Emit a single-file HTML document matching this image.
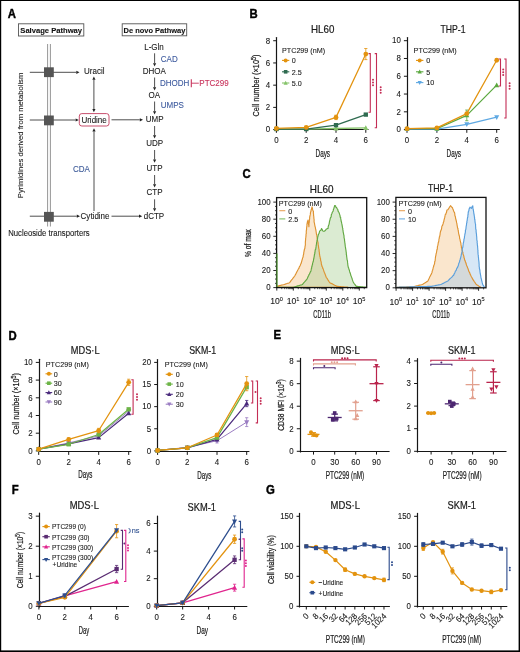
<!DOCTYPE html><html><head><meta charset="utf-8"><style>html,body{margin:0;padding:0;background:#fff;}svg{display:block;filter:blur(0.3px);}text{font-family:"Liberation Sans",sans-serif;}</style></head><body>
<svg width="520" height="652" viewBox="0 0 520 652">
<rect x="0.00" y="0.00" width="520.00" height="652.00" fill="#fff" stroke="none" stroke-width="1" />
<text x="7.80" y="18.00" font-size="12.2" fill="#000" stroke="#000" stroke-width="0.1" font-weight="bold" textLength="8.19" lengthAdjust="spacingAndGlyphs" style="stroke-width:0.4">A</text>
<text x="249.40" y="18.20" font-size="12.2" fill="#000" stroke="#000" stroke-width="0.1" font-weight="bold" textLength="8.19" lengthAdjust="spacingAndGlyphs" style="stroke-width:0.4">B</text>
<text x="242.50" y="178.20" font-size="12.2" fill="#000" stroke="#000" stroke-width="0.1" font-weight="bold" textLength="8.19" lengthAdjust="spacingAndGlyphs" style="stroke-width:0.4">C</text>
<text x="8.50" y="339.60" font-size="12.2" fill="#000" stroke="#000" stroke-width="0.1" font-weight="bold" textLength="8.19" lengthAdjust="spacingAndGlyphs" style="stroke-width:0.4">D</text>
<text x="273.50" y="339.00" font-size="12.2" fill="#000" stroke="#000" stroke-width="0.1" font-weight="bold" textLength="7.57" lengthAdjust="spacingAndGlyphs" style="stroke-width:0.4">E</text>
<text x="11.70" y="493.70" font-size="12.2" fill="#000" stroke="#000" stroke-width="0.1" font-weight="bold" textLength="6.93" lengthAdjust="spacingAndGlyphs" style="stroke-width:0.4">F</text>
<text x="266.00" y="493.70" font-size="12.2" fill="#000" stroke="#000" stroke-width="0.1" font-weight="bold" textLength="8.83" lengthAdjust="spacingAndGlyphs" style="stroke-width:0.4">G</text>
<rect x="18.50" y="23.80" width="65.30" height="12.20" fill="#fff" stroke="#555" stroke-width="0.9" />
<text x="51.20" y="33.20" font-size="7.9" fill="#111" stroke="#111" stroke-width="0.1" text-anchor="middle" font-weight="bold" textLength="61.8" lengthAdjust="spacingAndGlyphs" >Salvage Pathway</text>
<rect x="122.20" y="23.80" width="64.50" height="12.00" fill="#fff" stroke="#555" stroke-width="0.9" />
<text x="154.50" y="33.20" font-size="7.9" fill="#111" stroke="#111" stroke-width="0.1" text-anchor="middle" font-weight="bold" textLength="61.8" lengthAdjust="spacingAndGlyphs" >De novo Pathway</text>
<line x1="47.60" y1="44.00" x2="47.60" y2="226.50" stroke="#8a8a8a" stroke-width="0.9" />
<line x1="50.40" y1="44.00" x2="50.40" y2="226.50" stroke="#8a8a8a" stroke-width="0.9" />
<line x1="29.80" y1="72.30" x2="76.30" y2="72.30" stroke="#222" stroke-width="0.8" />
<path d="M79.50,72.30 L76.30,73.90 L76.30,70.70 Z" stroke="none" stroke-width="1" fill="#222" />
<line x1="29.80" y1="120.00" x2="75.60" y2="120.00" stroke="#222" stroke-width="0.8" />
<path d="M78.80,120.00 L75.60,121.60 L75.60,118.40 Z" stroke="none" stroke-width="1" fill="#222" />
<line x1="29.80" y1="216.20" x2="76.80" y2="216.20" stroke="#222" stroke-width="0.8" />
<path d="M80.00,216.20 L76.80,217.80 L76.80,214.60 Z" stroke="none" stroke-width="1" fill="#222" />
<rect x="44.00" y="67.30" width="9.80" height="9.80" fill="#555" stroke="none" stroke-width="1" />
<rect x="44.00" y="115.50" width="9.80" height="9.80" fill="#555" stroke="none" stroke-width="1" />
<rect x="44.00" y="211.90" width="9.80" height="9.80" fill="#555" stroke="none" stroke-width="1" />
<line x1="93.90" y1="94.00" x2="93.90" y2="79.80" stroke="#222" stroke-width="0.8" />
<path d="M93.90,76.60 L95.50,79.80 L92.30,79.80 Z" stroke="none" stroke-width="1" fill="#222" />
<line x1="93.90" y1="94.00" x2="93.90" y2="109.00" stroke="#222" stroke-width="0.8" />
<path d="M93.90,112.20 L92.30,109.00 L95.50,109.00 Z" stroke="none" stroke-width="1" fill="#222" />
<line x1="94.00" y1="211.00" x2="94.00" y2="131.50" stroke="#222" stroke-width="0.8" />
<path d="M94.00,128.30 L95.60,131.50 L92.40,131.50 Z" stroke="none" stroke-width="1" fill="#222" />
<rect x="79.30" y="113.60" width="29.70" height="12.40" fill="#fff" stroke="#c23b5c" stroke-width="0.9" rx="2.5" ry="2.5"/>
<text x="94.10" y="122.90" font-size="8.8" fill="#1a1a1a" stroke="#1a1a1a" stroke-width="0.1" text-anchor="middle" textLength="25.37" lengthAdjust="spacingAndGlyphs" >Uridine</text>
<text x="84.00" y="74.20" font-size="8.8" fill="#1a1a1a" stroke="#1a1a1a" stroke-width="0.1" textLength="20.47" lengthAdjust="spacingAndGlyphs" >Uracil</text>
<text x="80.60" y="219.20" font-size="8.8" fill="#1a1a1a" stroke="#1a1a1a" stroke-width="0.1" textLength="28.93" lengthAdjust="spacingAndGlyphs" >Cytidine</text>
<text x="73.00" y="172.00" font-size="8.8" fill="#3b5998" stroke="#3b5998" stroke-width="0.1" textLength="16.91" lengthAdjust="spacingAndGlyphs" >CDA</text>
<line x1="111.50" y1="119.80" x2="139.80" y2="119.80" stroke="#222" stroke-width="0.8" />
<path d="M143.00,119.80 L139.80,121.40 L139.80,118.20 Z" stroke="none" stroke-width="1" fill="#222" />
<line x1="111.50" y1="216.20" x2="139.00" y2="216.20" stroke="#222" stroke-width="0.8" />
<path d="M142.20,216.20 L139.00,217.80 L139.00,214.60 Z" stroke="none" stroke-width="1" fill="#222" />
<text x="154.00" y="49.90" font-size="8.8" fill="#1a1a1a" stroke="#1a1a1a" stroke-width="0.1" text-anchor="middle" textLength="19.58" lengthAdjust="spacingAndGlyphs" >L-Gln</text>
<text x="154.30" y="74.00" font-size="8.8" fill="#1a1a1a" stroke="#1a1a1a" stroke-width="0.1" text-anchor="middle" textLength="23.14" lengthAdjust="spacingAndGlyphs" >DHOA</text>
<text x="154.40" y="98.00" font-size="8.8" fill="#1a1a1a" stroke="#1a1a1a" stroke-width="0.1" text-anchor="middle" textLength="11.57" lengthAdjust="spacingAndGlyphs" >OA</text>
<text x="154.60" y="122.10" font-size="8.8" fill="#1a1a1a" stroke="#1a1a1a" stroke-width="0.1" text-anchor="middle" textLength="17.8" lengthAdjust="spacingAndGlyphs" >UMP</text>
<text x="154.60" y="146.30" font-size="8.8" fill="#1a1a1a" stroke="#1a1a1a" stroke-width="0.1" text-anchor="middle" textLength="16.91" lengthAdjust="spacingAndGlyphs" >UDP</text>
<text x="154.60" y="171.20" font-size="8.8" fill="#1a1a1a" stroke="#1a1a1a" stroke-width="0.1" text-anchor="middle" textLength="16.02" lengthAdjust="spacingAndGlyphs" >UTP</text>
<text x="154.60" y="195.30" font-size="8.8" fill="#1a1a1a" stroke="#1a1a1a" stroke-width="0.1" text-anchor="middle" textLength="16.02" lengthAdjust="spacingAndGlyphs" >CTP</text>
<text x="154.00" y="218.50" font-size="8.8" fill="#1a1a1a" stroke="#1a1a1a" stroke-width="0.1" text-anchor="middle" textLength="20.47" lengthAdjust="spacingAndGlyphs" >dCTP</text>
<line x1="154.60" y1="53.30" x2="154.60" y2="63.20" stroke="#222" stroke-width="0.8" />
<path d="M154.60,66.40 L153.00,63.20 L156.20,63.20 Z" stroke="none" stroke-width="1" fill="#222" />
<line x1="154.60" y1="77.50" x2="154.60" y2="87.30" stroke="#222" stroke-width="0.8" />
<path d="M154.60,90.50 L153.00,87.30 L156.20,87.30 Z" stroke="none" stroke-width="1" fill="#222" />
<line x1="154.60" y1="101.50" x2="154.60" y2="111.30" stroke="#222" stroke-width="0.8" />
<path d="M154.60,114.50 L153.00,111.30 L156.20,111.30 Z" stroke="none" stroke-width="1" fill="#222" />
<line x1="154.60" y1="126.00" x2="154.60" y2="135.30" stroke="#222" stroke-width="0.8" />
<path d="M154.60,138.50 L153.00,135.30 L156.20,135.30 Z" stroke="none" stroke-width="1" fill="#222" />
<line x1="154.60" y1="150.00" x2="154.60" y2="159.60" stroke="#222" stroke-width="0.8" />
<path d="M154.60,162.80 L153.00,159.60 L156.20,159.60 Z" stroke="none" stroke-width="1" fill="#222" />
<line x1="154.60" y1="175.00" x2="154.60" y2="184.20" stroke="#222" stroke-width="0.8" />
<path d="M154.60,187.40 L153.00,184.20 L156.20,184.20 Z" stroke="none" stroke-width="1" fill="#222" />
<line x1="154.60" y1="199.30" x2="154.60" y2="208.20" stroke="#222" stroke-width="0.8" />
<path d="M154.60,211.40 L153.00,208.20 L156.20,208.20 Z" stroke="none" stroke-width="1" fill="#222" />
<text x="160.80" y="62.10" font-size="8.8" fill="#3d5a9e" stroke="#3d5a9e" stroke-width="0.1" textLength="16.91" lengthAdjust="spacingAndGlyphs" >CAD</text>
<text x="160.00" y="85.60" font-size="8.8" fill="#3d5a9e" stroke="#3d5a9e" stroke-width="0.1" textLength="29.36" lengthAdjust="spacingAndGlyphs" >DHODH</text>
<text x="160.80" y="107.70" font-size="8.8" fill="#3d5a9e" stroke="#3d5a9e" stroke-width="0.1" textLength="23.14" lengthAdjust="spacingAndGlyphs" >UMPS</text>
<line x1="191.30" y1="79.30" x2="191.30" y2="87.20" stroke="#c8315a" stroke-width="1.1" />
<line x1="191.30" y1="83.20" x2="198.80" y2="83.20" stroke="#c8315a" stroke-width="0.9" />
<text x="199.30" y="85.60" font-size="8.8" fill="#c8315a" stroke="#c8315a" stroke-width="0.1" textLength="29.38" lengthAdjust="spacingAndGlyphs" >PTC299</text>
<text x="23.00" y="198.20" font-size="8.0" fill="#1a1a1a" stroke="#1a1a1a" stroke-width="0.1" textLength="125.5" lengthAdjust="spacingAndGlyphs" transform="rotate(-90 23.00 198.20)" >Pyrimidines derived from metabolism</text>
<text x="8.20" y="236.10" font-size="8.3" fill="#1a1a1a" stroke="#1a1a1a" stroke-width="0.1" textLength="81.5" lengthAdjust="spacingAndGlyphs" >Nucleoside transporters</text>
<text x="322.65" y="32.50" font-size="10.2" fill="#1a1a1a" stroke="#1a1a1a" stroke-width="0.1" text-anchor="middle" textLength="23.3" lengthAdjust="spacingAndGlyphs" style="stroke-width:0.2">HL60</text>
<line x1="276.50" y1="37.50" x2="276.50" y2="130.20" stroke="#161616" stroke-width="1.2" stroke-linecap="round"/>
<line x1="273.20" y1="129.60" x2="276.50" y2="129.60" stroke="#161616" stroke-width="1.0" />
<text x="270.10" y="132.38" font-size="8.6" fill="#1a1a1a" stroke="#1a1a1a" stroke-width="0.1" text-anchor="end" textLength="4.4" lengthAdjust="spacingAndGlyphs" >0</text>
<line x1="273.20" y1="107.38" x2="276.50" y2="107.38" stroke="#161616" stroke-width="1.0" />
<text x="270.10" y="110.16" font-size="8.6" fill="#1a1a1a" stroke="#1a1a1a" stroke-width="0.1" text-anchor="end" textLength="4.4" lengthAdjust="spacingAndGlyphs" >2</text>
<line x1="273.20" y1="85.16" x2="276.50" y2="85.16" stroke="#161616" stroke-width="1.0" />
<text x="270.10" y="87.94" font-size="8.6" fill="#1a1a1a" stroke="#1a1a1a" stroke-width="0.1" text-anchor="end" textLength="4.4" lengthAdjust="spacingAndGlyphs" >4</text>
<line x1="273.20" y1="62.94" x2="276.50" y2="62.94" stroke="#161616" stroke-width="1.0" />
<text x="270.10" y="65.72" font-size="8.6" fill="#1a1a1a" stroke="#1a1a1a" stroke-width="0.1" text-anchor="end" textLength="4.4" lengthAdjust="spacingAndGlyphs" >6</text>
<line x1="273.20" y1="40.72" x2="276.50" y2="40.72" stroke="#161616" stroke-width="1.0" />
<text x="270.10" y="43.50" font-size="8.6" fill="#1a1a1a" stroke="#1a1a1a" stroke-width="0.1" text-anchor="end" textLength="4.4" lengthAdjust="spacingAndGlyphs" >8</text>
<line x1="275.90" y1="129.50" x2="368.50" y2="129.50" stroke="#161616" stroke-width="1.2" />
<line x1="276.40" y1="129.60" x2="276.40" y2="132.80" stroke="#161616" stroke-width="1.0" />
<text x="276.40" y="143.28" font-size="8.6" fill="#1a1a1a" stroke="#1a1a1a" stroke-width="0.1" text-anchor="middle" textLength="4.4" lengthAdjust="spacingAndGlyphs" >0</text>
<line x1="306.20" y1="129.60" x2="306.20" y2="132.80" stroke="#161616" stroke-width="1.0" />
<text x="306.20" y="143.28" font-size="8.6" fill="#1a1a1a" stroke="#1a1a1a" stroke-width="0.1" text-anchor="middle" textLength="4.4" lengthAdjust="spacingAndGlyphs" >2</text>
<line x1="336.00" y1="129.60" x2="336.00" y2="132.80" stroke="#161616" stroke-width="1.0" />
<text x="336.00" y="143.28" font-size="8.6" fill="#1a1a1a" stroke="#1a1a1a" stroke-width="0.1" text-anchor="middle" textLength="4.4" lengthAdjust="spacingAndGlyphs" >4</text>
<line x1="365.80" y1="129.60" x2="365.80" y2="132.80" stroke="#161616" stroke-width="1.0" />
<text x="365.80" y="143.28" font-size="8.6" fill="#1a1a1a" stroke="#1a1a1a" stroke-width="0.1" text-anchor="middle" textLength="4.4" lengthAdjust="spacingAndGlyphs" >6</text>
<text x="258.70" y="85.50" font-size="8.61" fill="#1a1a1a" stroke="#1a1a1a" stroke-width="0.1" text-anchor="middle" textLength="62" lengthAdjust="spacingAndGlyphs" transform="rotate(-90 258.70 85.50)" style="stroke-width:0.22">Cell number (×10<tspan dy="-3" font-size="6.3">5</tspan><tspan dy="3">)</tspan></text>
<text x="322.80" y="156.50" font-size="11.008" fill="#1a1a1a" stroke="#1a1a1a" stroke-width="0.1" text-anchor="middle" textLength="14.5" lengthAdjust="spacingAndGlyphs" style="stroke-width:0.22">Days</text>
<text x="282.00" y="53.30" font-size="7.9" fill="#1a1a1a" stroke="#1a1a1a" stroke-width="0.1" textLength="43.14" lengthAdjust="spacingAndGlyphs" >PTC299 (nM)</text>
<path d="M276.40,129.04 L306.20,129.04 L336.00,128.49 L365.80,127.93" stroke="#86c46a" stroke-width="1.3" fill="none" stroke-linejoin="round"/>
<path d="M273.88,131.02 L278.92,131.02 L276.40,126.27 Z" stroke="none" stroke-width="1" fill="#86c46a" />
<path d="M303.68,131.02 L308.72,131.02 L306.20,126.27 Z" stroke="none" stroke-width="1" fill="#86c46a" />
<path d="M333.48,130.47 L338.52,130.47 L336.00,125.72 Z" stroke="none" stroke-width="1" fill="#86c46a" />
<path d="M363.28,129.91 L368.32,129.91 L365.80,125.16 Z" stroke="none" stroke-width="1" fill="#86c46a" />
<path d="M276.40,129.04 L306.20,129.04 L336.00,125.16 L365.80,114.60" stroke="#2f6b50" stroke-width="1.25" fill="none" stroke-linejoin="round"/>
<rect x="274.24" y="126.88" width="4.32" height="4.32" fill="#2f6b50" stroke="none" stroke-width="1" />
<rect x="304.04" y="126.88" width="4.32" height="4.32" fill="#2f6b50" stroke="none" stroke-width="1" />
<rect x="333.84" y="123.00" width="4.32" height="4.32" fill="#2f6b50" stroke="none" stroke-width="1" />
<rect x="363.64" y="112.44" width="4.32" height="4.32" fill="#2f6b50" stroke="none" stroke-width="1" />
<path d="M276.40,128.49 L306.20,127.38 L336.00,117.38 L365.80,54.05" stroke="#e3930f" stroke-width="1.25" fill="none" stroke-linejoin="round"/>
<line x1="336.00" y1="115.16" x2="336.00" y2="119.60" stroke="#e3930f" stroke-width="0.8" />
<line x1="334.40" y1="115.16" x2="337.60" y2="115.16" stroke="#e3930f" stroke-width="0.8" />
<line x1="334.40" y1="119.60" x2="337.60" y2="119.60" stroke="#e3930f" stroke-width="0.8" />
<line x1="365.80" y1="48.50" x2="365.80" y2="59.61" stroke="#e3930f" stroke-width="0.8" />
<line x1="364.20" y1="48.50" x2="367.40" y2="48.50" stroke="#e3930f" stroke-width="0.8" />
<line x1="364.20" y1="59.61" x2="367.40" y2="59.61" stroke="#e3930f" stroke-width="0.8" />
<circle cx="276.40" cy="128.49" r="2.40" fill="#e3930f"/>
<circle cx="306.20" cy="127.38" r="2.40" fill="#e3930f"/>
<circle cx="336.00" cy="117.38" r="2.40" fill="#e3930f"/>
<circle cx="365.80" cy="54.05" r="2.40" fill="#e3930f"/>
<line x1="282.00" y1="60.40" x2="289.30" y2="60.40" stroke="#e3930f" stroke-width="1.1" />
<circle cx="285.65" cy="60.40" r="2.00" fill="#e3930f"/>
<text x="291.70" y="63.24" font-size="7.9" fill="#1a1a1a" stroke="#1a1a1a" stroke-width="0.1" textLength="4.0" lengthAdjust="spacingAndGlyphs" >0</text>
<line x1="282.00" y1="71.80" x2="289.30" y2="71.80" stroke="#2f6b50" stroke-width="1.1" />
<rect x="283.85" y="70.00" width="3.60" height="3.60" fill="#2f6b50" stroke="none" stroke-width="1" />
<text x="291.70" y="74.64" font-size="7.9" fill="#1a1a1a" stroke="#1a1a1a" stroke-width="0.1" textLength="9.99" lengthAdjust="spacingAndGlyphs" >2.5</text>
<line x1="282.00" y1="83.00" x2="289.30" y2="83.00" stroke="#86c46a" stroke-width="1.1" />
<path d="M283.55,84.65 L287.75,84.65 L285.65,80.69 Z" stroke="none" stroke-width="1" fill="#86c46a" />
<text x="291.70" y="85.84" font-size="7.9" fill="#1a1a1a" stroke="#1a1a1a" stroke-width="0.1" textLength="9.99" lengthAdjust="spacingAndGlyphs" >5.0</text>
<path d="M368.50,53.60 L370.30,53.60 L370.30,112.20 L368.50,112.20" stroke="#c42d55" stroke-width="1.1" fill="none" />
<circle cx="373.00" cy="79.80" r="1.00" fill="#c42d55"/>
<circle cx="373.00" cy="82.50" r="1.00" fill="#c42d55"/>
<circle cx="373.00" cy="85.20" r="1.00" fill="#c42d55"/>
<path d="M374.70,53.60 L376.50,53.60 L376.50,127.80 L374.70,127.80" stroke="#c42d55" stroke-width="1.1" fill="none" />
<circle cx="380.70" cy="87.30" r="1.00" fill="#c42d55"/>
<circle cx="380.70" cy="90.00" r="1.00" fill="#c42d55"/>
<circle cx="380.70" cy="92.70" r="1.00" fill="#c42d55"/>
<text x="453.00" y="32.60" font-size="10.2" fill="#1a1a1a" stroke="#1a1a1a" stroke-width="0.1" text-anchor="middle" textLength="25" lengthAdjust="spacingAndGlyphs" style="stroke-width:0.2">THP-1</text>
<line x1="407.50" y1="37.50" x2="407.50" y2="130.20" stroke="#161616" stroke-width="1.2" stroke-linecap="round"/>
<line x1="403.90" y1="129.60" x2="407.50" y2="129.60" stroke="#161616" stroke-width="1.0" />
<text x="400.80" y="132.38" font-size="8.6" fill="#1a1a1a" stroke="#1a1a1a" stroke-width="0.1" text-anchor="end" textLength="4.4" lengthAdjust="spacingAndGlyphs" >0</text>
<line x1="403.90" y1="111.82" x2="407.50" y2="111.82" stroke="#161616" stroke-width="1.0" />
<text x="400.80" y="114.60" font-size="8.6" fill="#1a1a1a" stroke="#1a1a1a" stroke-width="0.1" text-anchor="end" textLength="4.4" lengthAdjust="spacingAndGlyphs" >2</text>
<line x1="403.90" y1="94.04" x2="407.50" y2="94.04" stroke="#161616" stroke-width="1.0" />
<text x="400.80" y="96.82" font-size="8.6" fill="#1a1a1a" stroke="#1a1a1a" stroke-width="0.1" text-anchor="end" textLength="4.4" lengthAdjust="spacingAndGlyphs" >4</text>
<line x1="403.90" y1="76.26" x2="407.50" y2="76.26" stroke="#161616" stroke-width="1.0" />
<text x="400.80" y="79.04" font-size="8.6" fill="#1a1a1a" stroke="#1a1a1a" stroke-width="0.1" text-anchor="end" textLength="4.4" lengthAdjust="spacingAndGlyphs" >6</text>
<line x1="403.90" y1="58.48" x2="407.50" y2="58.48" stroke="#161616" stroke-width="1.0" />
<text x="400.80" y="61.26" font-size="8.6" fill="#1a1a1a" stroke="#1a1a1a" stroke-width="0.1" text-anchor="end" textLength="4.4" lengthAdjust="spacingAndGlyphs" >8</text>
<line x1="403.90" y1="40.70" x2="407.50" y2="40.70" stroke="#161616" stroke-width="1.0" />
<text x="400.80" y="43.48" font-size="8.6" fill="#1a1a1a" stroke="#1a1a1a" stroke-width="0.1" text-anchor="end" textLength="8.8" lengthAdjust="spacingAndGlyphs" >10</text>
<line x1="406.90" y1="129.50" x2="499.80" y2="129.50" stroke="#161616" stroke-width="1.2" />
<line x1="407.00" y1="129.60" x2="407.00" y2="132.80" stroke="#161616" stroke-width="1.0" />
<text x="407.00" y="143.28" font-size="8.6" fill="#1a1a1a" stroke="#1a1a1a" stroke-width="0.1" text-anchor="middle" textLength="4.4" lengthAdjust="spacingAndGlyphs" >0</text>
<line x1="436.90" y1="129.60" x2="436.90" y2="132.80" stroke="#161616" stroke-width="1.0" />
<text x="436.90" y="143.28" font-size="8.6" fill="#1a1a1a" stroke="#1a1a1a" stroke-width="0.1" text-anchor="middle" textLength="4.4" lengthAdjust="spacingAndGlyphs" >2</text>
<line x1="466.80" y1="129.60" x2="466.80" y2="132.80" stroke="#161616" stroke-width="1.0" />
<text x="466.80" y="143.28" font-size="8.6" fill="#1a1a1a" stroke="#1a1a1a" stroke-width="0.1" text-anchor="middle" textLength="4.4" lengthAdjust="spacingAndGlyphs" >4</text>
<line x1="496.70" y1="129.60" x2="496.70" y2="132.80" stroke="#161616" stroke-width="1.0" />
<text x="496.70" y="143.28" font-size="8.6" fill="#1a1a1a" stroke="#1a1a1a" stroke-width="0.1" text-anchor="middle" textLength="4.4" lengthAdjust="spacingAndGlyphs" >6</text>
<text x="453.80" y="156.50" font-size="11.008" fill="#1a1a1a" stroke="#1a1a1a" stroke-width="0.1" text-anchor="middle" textLength="14.5" lengthAdjust="spacingAndGlyphs" style="stroke-width:0.22">Days</text>
<text x="413.60" y="53.30" font-size="7.9" fill="#1a1a1a" stroke="#1a1a1a" stroke-width="0.1" textLength="43.14" lengthAdjust="spacingAndGlyphs" >PTC299 (nM)</text>
<path d="M407.00,129.16 L436.90,129.16 L466.80,124.27 L496.70,117.15" stroke="#5fa9e3" stroke-width="1.25" fill="none" stroke-linejoin="round"/>
<path d="M404.48,127.18 L409.52,127.18 L407.00,131.93 Z" stroke="none" stroke-width="1" fill="#5fa9e3" />
<path d="M434.38,127.18 L439.42,127.18 L436.90,131.93 Z" stroke="none" stroke-width="1" fill="#5fa9e3" />
<path d="M464.28,122.29 L469.32,122.29 L466.80,127.04 Z" stroke="none" stroke-width="1" fill="#5fa9e3" />
<path d="M494.18,115.17 L499.22,115.17 L496.70,119.93 Z" stroke="none" stroke-width="1" fill="#5fa9e3" />
<path d="M407.00,128.71 L436.90,128.71 L466.80,115.38 L496.70,85.15" stroke="#5aa83e" stroke-width="1.25" fill="none" stroke-linejoin="round"/>
<line x1="466.80" y1="110.04" x2="466.80" y2="120.71" stroke="#5aa83e" stroke-width="0.8" />
<line x1="465.20" y1="110.04" x2="468.40" y2="110.04" stroke="#5aa83e" stroke-width="0.8" />
<line x1="465.20" y1="120.71" x2="468.40" y2="120.71" stroke="#5aa83e" stroke-width="0.8" />
<path d="M404.48,130.69 L409.52,130.69 L407.00,125.94 Z" stroke="none" stroke-width="1" fill="#5aa83e" />
<path d="M434.38,130.69 L439.42,130.69 L436.90,125.94 Z" stroke="none" stroke-width="1" fill="#5aa83e" />
<path d="M464.28,117.36 L469.32,117.36 L466.80,112.60 Z" stroke="none" stroke-width="1" fill="#5aa83e" />
<path d="M494.18,87.13 L499.22,87.13 L496.70,82.38 Z" stroke="none" stroke-width="1" fill="#5aa83e" />
<path d="M407.00,128.71 L436.90,127.82 L466.80,113.60 L496.70,60.26" stroke="#e3930f" stroke-width="1.25" fill="none" stroke-linejoin="round"/>
<circle cx="407.00" cy="128.71" r="2.40" fill="#e3930f"/>
<circle cx="436.90" cy="127.82" r="2.40" fill="#e3930f"/>
<circle cx="466.80" cy="113.60" r="2.40" fill="#e3930f"/>
<circle cx="496.70" cy="60.26" r="2.40" fill="#e3930f"/>
<line x1="416.00" y1="60.40" x2="423.40" y2="60.40" stroke="#e3930f" stroke-width="1.1" />
<circle cx="419.70" cy="60.40" r="2.00" fill="#e3930f"/>
<text x="426.30" y="63.24" font-size="7.9" fill="#1a1a1a" stroke="#1a1a1a" stroke-width="0.1" textLength="4.0" lengthAdjust="spacingAndGlyphs" >0</text>
<line x1="416.00" y1="71.80" x2="423.40" y2="71.80" stroke="#5aa83e" stroke-width="1.1" />
<path d="M417.60,73.45 L421.80,73.45 L419.70,69.49 Z" stroke="none" stroke-width="1" fill="#5aa83e" />
<text x="426.30" y="74.64" font-size="7.9" fill="#1a1a1a" stroke="#1a1a1a" stroke-width="0.1" textLength="4.0" lengthAdjust="spacingAndGlyphs" >5</text>
<line x1="416.00" y1="82.60" x2="423.40" y2="82.60" stroke="#5fa9e3" stroke-width="1.1" />
<path d="M417.60,80.95 L421.80,80.95 L419.70,84.91 Z" stroke="none" stroke-width="1" fill="#5fa9e3" />
<text x="426.30" y="85.44" font-size="7.9" fill="#1a1a1a" stroke="#1a1a1a" stroke-width="0.1" textLength="8.0" lengthAdjust="spacingAndGlyphs" >10</text>
<path d="M498.70,59.00 L500.50,59.00 L500.50,86.00 L498.70,86.00" stroke="#c42d55" stroke-width="1.1" fill="none" />
<circle cx="503.20" cy="69.50" r="1.00" fill="#c42d55"/>
<circle cx="503.20" cy="72.20" r="1.00" fill="#c42d55"/>
<circle cx="503.20" cy="74.90" r="1.00" fill="#c42d55"/>
<path d="M504.20,59.00 L506.00,59.00 L506.00,118.00 L504.20,118.00" stroke="#c42d55" stroke-width="1.1" fill="none" />
<circle cx="509.60" cy="83.30" r="1.00" fill="#c42d55"/>
<circle cx="509.60" cy="86.00" r="1.00" fill="#c42d55"/>
<circle cx="509.60" cy="88.70" r="1.00" fill="#c42d55"/>
<path d="M276.83,286.34 L277.74,286.11 L278.65,285.88 L279.56,285.66 L280.47,285.43 L281.39,285.17 L282.31,285.01 L283.21,284.72 L284.14,284.57 L285.05,284.20 L285.98,283.84 L286.89,283.57 L287.78,283.23 L288.69,283.06 L289.60,282.71 L290.17,281.93 L290.71,281.10 L291.23,280.40 L291.82,279.74 L292.34,279.07 L292.90,278.22 L293.48,277.68 L293.97,276.89 L294.55,276.33 L295.12,275.25 L295.57,274.32 L295.90,273.94 L296.26,272.94 L296.65,272.27 L297.17,271.39 L297.60,270.35 L297.97,269.79 L298.36,268.85 L298.82,268.53 L299.20,267.34 L299.57,266.47 L300.15,265.88 L300.65,264.19 L301.01,263.70 L301.39,262.55 L301.65,261.26 L301.85,261.06 L302.09,259.58 L302.38,259.35 L302.54,257.97 L302.87,257.54 L303.16,256.60 L303.27,255.20 L303.47,254.80 L303.78,253.08 L303.79,252.25 L303.99,251.62 L304.25,250.46 L304.30,249.72 L304.57,248.97 L304.88,248.19 L304.96,247.20 L305.18,245.66 L305.31,245.55 L305.38,244.65 L305.35,243.30 L305.36,242.65 L305.43,241.11 L305.54,240.30 L305.64,239.27 L305.64,238.46 L305.74,237.78 L305.80,237.43 L306.01,235.72 L306.00,235.02 L306.10,233.86 L306.29,233.91 L306.28,232.43 L306.27,231.10 L306.40,230.37 L306.59,229.34 L306.49,229.29 L306.67,227.50 L306.75,226.45 L306.83,226.58 L306.97,225.36 L306.92,224.08 L307.08,223.62 L307.34,222.71 L307.48,221.19 L307.77,221.11 L307.96,220.00 L308.09,220.84 L308.09,221.51 L308.24,221.89 L308.30,223.07 L308.48,224.44 L308.77,225.09 L308.89,226.59 L308.99,225.00 L308.92,223.93 L309.01,222.99 L309.19,222.84 L309.33,221.47 L309.38,220.91 L309.35,219.84 L309.62,219.06 L309.68,217.81 L309.64,217.24 L309.86,216.34 L310.18,214.98 L310.24,214.67 L310.49,212.91 L310.54,211.97 L310.90,211.78 L310.91,210.89 L311.28,209.79 L311.60,208.57 L312.01,206.89 L312.51,208.59 L312.73,209.91 L313.03,210.85 L313.44,211.12 L313.39,212.13 L313.46,213.36 L313.54,214.09 L313.59,215.55 L313.71,215.96 L313.84,217.37 L313.88,218.30 L313.97,218.79 L314.06,219.13 L314.11,220.23 L314.09,221.82 L314.21,222.37 L314.51,223.38 L314.61,224.25 L314.84,225.46 L314.92,226.12 L315.14,226.73 L315.43,227.89 L315.57,229.08 L315.83,229.65 L315.95,230.63 L316.11,231.75 L316.25,232.49 L316.41,233.85 L316.61,234.69 L316.81,234.93 L316.88,236.59 L317.09,236.62 L317.09,237.87 L317.23,238.56 L317.38,239.95 L317.69,241.11 L317.70,241.82 L317.97,242.11 L318.15,243.93 L318.13,244.82 L318.30,245.23 L318.56,246.52 L318.51,246.99 L318.72,247.80 L318.78,248.69 L319.03,249.28 L319.12,250.66 L319.13,251.45 L319.40,252.56 L319.40,254.00 L319.69,254.89 L319.67,255.03 L319.84,256.51 L320.07,256.71 L320.29,258.48 L320.56,258.68 L320.60,260.32 L320.87,260.99 L320.95,261.20 L321.26,262.51 L321.31,263.99 L321.62,264.75 L321.80,265.73 L322.10,266.65 L322.49,266.99 L322.82,268.51 L323.06,268.63 L323.42,269.66 L323.69,270.52 L324.03,271.49 L324.41,272.49 L324.82,273.41 L325.13,274.26 L325.45,275.09 L325.78,276.02 L326.18,277.24 L326.65,277.98 L327.24,278.61 L327.74,279.53 L328.24,280.46 L328.76,281.13 L329.30,282.03 L329.80,282.76 L330.63,283.12 L331.43,283.48 L332.23,283.86 L333.04,284.35 L333.86,284.69 L334.67,285.16 L335.50,285.54 L336.30,285.93 L337.11,286.35 L338.03,286.42 L338.94,286.50 L339.86,286.57 L340.77,286.65 L341.68,286.73 L342.60,286.80 L343.51,286.88 L344.42,286.96 L345.34,287.03 L346.25,287.11 L347.16,287.18 L348.08,287.26 L347.18,287.26 L346.27,287.26 L345.37,287.26 L344.47,287.26 L343.57,287.26 L342.67,287.26 L341.76,287.26 L340.86,287.26 L339.96,287.26 L339.06,287.26 L338.16,287.26 L337.25,287.26 L336.35,287.26 L335.45,287.26 L334.55,287.26 L333.65,287.26 L332.74,287.26 L331.84,287.26 L330.94,287.26 L330.04,287.26 L329.14,287.26 L328.24,287.26 L327.33,287.26 L326.43,287.26 L325.53,287.26 L324.63,287.26 L323.73,287.26 L322.82,287.26 L321.92,287.26 L321.02,287.26 L320.12,287.26 L319.22,287.26 L318.31,287.26 L317.41,287.26 L316.51,287.26 L315.61,287.26 L314.71,287.26 L313.80,287.26 L312.90,287.26 L312.00,287.26 L311.10,287.26 L310.20,287.26 L309.30,287.26 L308.39,287.26 L307.49,287.26 L306.59,287.26 L305.69,287.26 L304.79,287.26 L303.88,287.26 L302.98,287.26 L302.08,287.26 L301.18,287.26 L300.28,287.26 L299.37,287.26 L298.47,287.26 L297.57,287.26 L296.67,287.26 L295.77,287.26 L294.86,287.26 L293.96,287.26 L293.06,287.26 L292.16,287.26 L291.26,287.26 L290.36,287.26 L289.45,287.26 L288.55,287.26 L287.65,287.26 L286.75,287.26 L285.85,287.26 L284.94,287.26 L284.04,287.26 L283.14,287.26 L282.24,287.26 L281.34,287.26 L280.43,287.26 L279.53,287.26 L278.63,287.26 L277.73,287.26 L276.83,287.26 Z" stroke="none" stroke-width="1" fill="#f3c890" fill-opacity="0.45"/>
<path d="M276.83,287.26 L277.74,287.26 L278.65,287.26 L279.57,287.26 L280.48,287.26 L281.39,287.26 L282.31,287.26 L283.22,287.26 L284.13,287.26 L285.05,287.26 L285.96,287.26 L286.88,287.26 L287.79,287.26 L288.70,287.26 L289.62,287.26 L290.53,287.26 L291.44,287.26 L292.36,287.26 L293.27,287.26 L294.18,286.99 L295.10,286.71 L296.01,286.44 L296.93,286.17 L297.84,285.87 L298.74,285.63 L299.67,285.34 L300.58,285.03 L301.49,284.84 L302.41,284.56 L303.07,283.70 L303.69,282.88 L304.36,282.21 L305.04,281.45 L305.68,280.69 L306.32,279.84 L306.93,279.16 L307.35,278.42 L307.80,277.32 L308.15,276.47 L308.61,275.91 L308.95,274.70 L309.41,274.22 L309.80,273.15 L310.23,272.16 L310.59,271.70 L310.93,270.94 L311.15,269.88 L311.26,268.75 L311.63,268.29 L311.73,266.65 L311.99,266.44 L312.21,265.07 L312.49,264.89 L312.62,263.00 L312.87,262.51 L313.18,261.35 L313.43,261.03 L313.54,259.53 L313.81,258.74 L313.95,257.73 L313.99,257.40 L314.18,256.70 L314.39,254.94 L314.50,254.28 L314.77,253.96 L314.83,252.43 L315.01,252.16 L315.17,250.23 L315.32,249.69 L315.68,249.32 L315.81,248.53 L316.03,246.88 L316.04,246.63 L316.33,244.73 L316.47,244.19 L316.58,243.23 L316.70,241.95 L316.89,241.42 L317.20,240.26 L317.37,239.44 L317.40,239.20 L317.67,237.86 L317.67,236.99 L317.90,236.57 L318.23,235.04 L318.75,233.76 L319.01,233.71 L319.45,231.95 L319.66,231.06 L320.46,230.36 L321.03,230.15 L321.55,228.55 L322.30,229.84 L322.75,230.86 L323.37,231.29 L324.22,231.21 L325.33,230.47 L326.25,229.19 L327.01,228.77 L328.08,228.38 L328.18,226.70 L328.42,226.05 L328.76,224.80 L328.96,224.49 L329.19,223.62 L329.37,222.21 L329.54,221.34 L329.87,220.11 L330.00,219.94 L330.27,218.27 L330.49,217.89 L330.81,217.45 L331.20,216.55 L331.32,214.64 L331.55,214.18 L332.05,213.21 L332.31,212.26 L332.76,211.63 L333.15,210.91 L333.50,209.20 L333.83,208.48 L334.06,207.65 L334.39,206.54 L334.58,205.68 L334.85,205.47 L335.49,205.77 L336.00,207.42 L336.57,207.49 L337.18,208.87 L337.68,209.18 L338.02,210.88 L338.56,211.90 L338.84,212.13 L339.12,212.93 L339.57,214.27 L339.82,214.96 L340.07,215.95 L340.19,217.23 L340.61,217.40 L340.79,218.88 L340.89,219.52 L341.06,220.25 L341.26,221.60 L341.53,222.08 L341.58,223.13 L341.90,223.88 L342.01,224.82 L342.30,226.11 L342.32,226.53 L342.57,227.94 L342.78,228.35 L342.83,229.93 L343.03,230.39 L343.16,232.04 L343.32,232.53 L343.48,233.27 L343.74,234.83 L343.78,234.86 L344.02,235.78 L344.01,237.46 L344.25,238.29 L344.40,239.27 L344.53,239.39 L344.54,240.73 L344.80,242.04 L344.79,242.63 L344.97,243.42 L345.03,244.09 L345.23,245.71 L345.25,246.14 L345.52,247.58 L345.50,247.57 L345.78,249.42 L345.79,249.32 L346.00,250.60 L346.11,251.77 L346.21,252.17 L346.31,253.16 L346.36,254.76 L346.58,254.94 L346.58,256.09 L346.78,256.99 L346.82,257.75 L347.08,259.38 L347.06,259.92 L347.35,260.26 L347.50,261.26 L347.58,262.65 L347.71,263.30 L347.80,264.51 L347.93,265.51 L348.07,266.18 L348.25,267.29 L348.62,267.81 L348.95,269.26 L349.17,269.61 L349.44,270.48 L349.66,271.67 L349.93,272.60 L350.27,273.23 L350.56,274.19 L350.85,275.56 L351.16,276.05 L351.50,277.15 L351.89,277.96 L352.22,279.24 L352.55,280.07 L352.85,281.02 L353.21,281.90 L353.58,282.62 L354.12,283.50 L354.64,284.13 L355.21,284.85 L355.75,285.60 L356.30,286.34 L357.21,286.43 L358.12,286.51 L359.04,286.60 L359.95,286.68 L360.87,286.76 L361.78,286.84 L362.69,286.93 L363.61,287.01 L364.52,287.09 L365.43,287.18 L366.35,287.26 Z" stroke="none" stroke-width="1" fill="#a9cf94" fill-opacity="0.42"/>
<path d="M276.83,286.34 L277.74,286.11 L278.65,285.88 L279.56,285.66 L280.47,285.43 L281.39,285.17 L282.31,285.01 L283.21,284.72 L284.14,284.57 L285.05,284.20 L285.98,283.84 L286.89,283.57 L287.78,283.23 L288.69,283.06 L289.60,282.71 L290.17,281.93 L290.71,281.10 L291.23,280.40 L291.82,279.74 L292.34,279.07 L292.90,278.22 L293.48,277.68 L293.97,276.89 L294.55,276.33 L295.12,275.25 L295.57,274.32 L295.90,273.94 L296.26,272.94 L296.65,272.27 L297.17,271.39 L297.60,270.35 L297.97,269.79 L298.36,268.85 L298.82,268.53 L299.20,267.34 L299.57,266.47 L300.15,265.88 L300.65,264.19 L301.01,263.70 L301.39,262.55 L301.65,261.26 L301.85,261.06 L302.09,259.58 L302.38,259.35 L302.54,257.97 L302.87,257.54 L303.16,256.60 L303.27,255.20 L303.47,254.80 L303.78,253.08 L303.79,252.25 L303.99,251.62 L304.25,250.46 L304.30,249.72 L304.57,248.97 L304.88,248.19 L304.96,247.20 L305.18,245.66 L305.31,245.55 L305.38,244.65 L305.35,243.30 L305.36,242.65 L305.43,241.11 L305.54,240.30 L305.64,239.27 L305.64,238.46 L305.74,237.78 L305.80,237.43 L306.01,235.72 L306.00,235.02 L306.10,233.86 L306.29,233.91 L306.28,232.43 L306.27,231.10 L306.40,230.37 L306.59,229.34 L306.49,229.29 L306.67,227.50 L306.75,226.45 L306.83,226.58 L306.97,225.36 L306.92,224.08 L307.08,223.62 L307.34,222.71 L307.48,221.19 L307.77,221.11 L307.96,220.00 L308.09,220.84 L308.09,221.51 L308.24,221.89 L308.30,223.07 L308.48,224.44 L308.77,225.09 L308.89,226.59 L308.99,225.00 L308.92,223.93 L309.01,222.99 L309.19,222.84 L309.33,221.47 L309.38,220.91 L309.35,219.84 L309.62,219.06 L309.68,217.81 L309.64,217.24 L309.86,216.34 L310.18,214.98 L310.24,214.67 L310.49,212.91 L310.54,211.97 L310.90,211.78 L310.91,210.89 L311.28,209.79 L311.60,208.57 L312.01,206.89 L312.51,208.59 L312.73,209.91 L313.03,210.85 L313.44,211.12 L313.39,212.13 L313.46,213.36 L313.54,214.09 L313.59,215.55 L313.71,215.96 L313.84,217.37 L313.88,218.30 L313.97,218.79 L314.06,219.13 L314.11,220.23 L314.09,221.82 L314.21,222.37 L314.51,223.38 L314.61,224.25 L314.84,225.46 L314.92,226.12 L315.14,226.73 L315.43,227.89 L315.57,229.08 L315.83,229.65 L315.95,230.63 L316.11,231.75 L316.25,232.49 L316.41,233.85 L316.61,234.69 L316.81,234.93 L316.88,236.59 L317.09,236.62 L317.09,237.87 L317.23,238.56 L317.38,239.95 L317.69,241.11 L317.70,241.82 L317.97,242.11 L318.15,243.93 L318.13,244.82 L318.30,245.23 L318.56,246.52 L318.51,246.99 L318.72,247.80 L318.78,248.69 L319.03,249.28 L319.12,250.66 L319.13,251.45 L319.40,252.56 L319.40,254.00 L319.69,254.89 L319.67,255.03 L319.84,256.51 L320.07,256.71 L320.29,258.48 L320.56,258.68 L320.60,260.32 L320.87,260.99 L320.95,261.20 L321.26,262.51 L321.31,263.99 L321.62,264.75 L321.80,265.73 L322.10,266.65 L322.49,266.99 L322.82,268.51 L323.06,268.63 L323.42,269.66 L323.69,270.52 L324.03,271.49 L324.41,272.49 L324.82,273.41 L325.13,274.26 L325.45,275.09 L325.78,276.02 L326.18,277.24 L326.65,277.98 L327.24,278.61 L327.74,279.53 L328.24,280.46 L328.76,281.13 L329.30,282.03 L329.80,282.76 L330.63,283.12 L331.43,283.48 L332.23,283.86 L333.04,284.35 L333.86,284.69 L334.67,285.16 L335.50,285.54 L336.30,285.93 L337.11,286.35 L338.03,286.42 L338.94,286.50 L339.86,286.57 L340.77,286.65 L341.68,286.73 L342.60,286.80 L343.51,286.88 L344.42,286.96 L345.34,287.03 L346.25,287.11 L347.16,287.18 L348.08,287.26 L347.18,287.26 L346.27,287.26 L345.37,287.26 L344.47,287.26 L343.57,287.26 L342.67,287.26 L341.76,287.26 L340.86,287.26 L339.96,287.26 L339.06,287.26 L338.16,287.26 L337.25,287.26 L336.35,287.26 L335.45,287.26 L334.55,287.26 L333.65,287.26 L332.74,287.26 L331.84,287.26 L330.94,287.26 L330.04,287.26 L329.14,287.26 L328.24,287.26 L327.33,287.26 L326.43,287.26 L325.53,287.26 L324.63,287.26 L323.73,287.26 L322.82,287.26 L321.92,287.26 L321.02,287.26 L320.12,287.26 L319.22,287.26 L318.31,287.26 L317.41,287.26 L316.51,287.26 L315.61,287.26 L314.71,287.26 L313.80,287.26 L312.90,287.26 L312.00,287.26 L311.10,287.26 L310.20,287.26 L309.30,287.26 L308.39,287.26 L307.49,287.26 L306.59,287.26 L305.69,287.26 L304.79,287.26 L303.88,287.26 L302.98,287.26 L302.08,287.26 L301.18,287.26 L300.28,287.26 L299.37,287.26 L298.47,287.26 L297.57,287.26 L296.67,287.26 L295.77,287.26 L294.86,287.26 L293.96,287.26 L293.06,287.26 L292.16,287.26 L291.26,287.26 L290.36,287.26 L289.45,287.26 L288.55,287.26 L287.65,287.26 L286.75,287.26 L285.85,287.26 L284.94,287.26 L284.04,287.26 L283.14,287.26 L282.24,287.26 L281.34,287.26 L280.43,287.26 L279.53,287.26 L278.63,287.26 L277.73,287.26 L276.83,287.26" stroke="#de9332" stroke-width="1.15" fill="none" stroke-linejoin="round"/>
<path d="M276.83,287.26 L277.74,287.26 L278.65,287.26 L279.57,287.26 L280.48,287.26 L281.39,287.26 L282.31,287.26 L283.22,287.26 L284.13,287.26 L285.05,287.26 L285.96,287.26 L286.88,287.26 L287.79,287.26 L288.70,287.26 L289.62,287.26 L290.53,287.26 L291.44,287.26 L292.36,287.26 L293.27,287.26 L294.18,286.99 L295.10,286.71 L296.01,286.44 L296.93,286.17 L297.84,285.87 L298.74,285.63 L299.67,285.34 L300.58,285.03 L301.49,284.84 L302.41,284.56 L303.07,283.70 L303.69,282.88 L304.36,282.21 L305.04,281.45 L305.68,280.69 L306.32,279.84 L306.93,279.16 L307.35,278.42 L307.80,277.32 L308.15,276.47 L308.61,275.91 L308.95,274.70 L309.41,274.22 L309.80,273.15 L310.23,272.16 L310.59,271.70 L310.93,270.94 L311.15,269.88 L311.26,268.75 L311.63,268.29 L311.73,266.65 L311.99,266.44 L312.21,265.07 L312.49,264.89 L312.62,263.00 L312.87,262.51 L313.18,261.35 L313.43,261.03 L313.54,259.53 L313.81,258.74 L313.95,257.73 L313.99,257.40 L314.18,256.70 L314.39,254.94 L314.50,254.28 L314.77,253.96 L314.83,252.43 L315.01,252.16 L315.17,250.23 L315.32,249.69 L315.68,249.32 L315.81,248.53 L316.03,246.88 L316.04,246.63 L316.33,244.73 L316.47,244.19 L316.58,243.23 L316.70,241.95 L316.89,241.42 L317.20,240.26 L317.37,239.44 L317.40,239.20 L317.67,237.86 L317.67,236.99 L317.90,236.57 L318.23,235.04 L318.75,233.76 L319.01,233.71 L319.45,231.95 L319.66,231.06 L320.46,230.36 L321.03,230.15 L321.55,228.55 L322.30,229.84 L322.75,230.86 L323.37,231.29 L324.22,231.21 L325.33,230.47 L326.25,229.19 L327.01,228.77 L328.08,228.38 L328.18,226.70 L328.42,226.05 L328.76,224.80 L328.96,224.49 L329.19,223.62 L329.37,222.21 L329.54,221.34 L329.87,220.11 L330.00,219.94 L330.27,218.27 L330.49,217.89 L330.81,217.45 L331.20,216.55 L331.32,214.64 L331.55,214.18 L332.05,213.21 L332.31,212.26 L332.76,211.63 L333.15,210.91 L333.50,209.20 L333.83,208.48 L334.06,207.65 L334.39,206.54 L334.58,205.68 L334.85,205.47 L335.49,205.77 L336.00,207.42 L336.57,207.49 L337.18,208.87 L337.68,209.18 L338.02,210.88 L338.56,211.90 L338.84,212.13 L339.12,212.93 L339.57,214.27 L339.82,214.96 L340.07,215.95 L340.19,217.23 L340.61,217.40 L340.79,218.88 L340.89,219.52 L341.06,220.25 L341.26,221.60 L341.53,222.08 L341.58,223.13 L341.90,223.88 L342.01,224.82 L342.30,226.11 L342.32,226.53 L342.57,227.94 L342.78,228.35 L342.83,229.93 L343.03,230.39 L343.16,232.04 L343.32,232.53 L343.48,233.27 L343.74,234.83 L343.78,234.86 L344.02,235.78 L344.01,237.46 L344.25,238.29 L344.40,239.27 L344.53,239.39 L344.54,240.73 L344.80,242.04 L344.79,242.63 L344.97,243.42 L345.03,244.09 L345.23,245.71 L345.25,246.14 L345.52,247.58 L345.50,247.57 L345.78,249.42 L345.79,249.32 L346.00,250.60 L346.11,251.77 L346.21,252.17 L346.31,253.16 L346.36,254.76 L346.58,254.94 L346.58,256.09 L346.78,256.99 L346.82,257.75 L347.08,259.38 L347.06,259.92 L347.35,260.26 L347.50,261.26 L347.58,262.65 L347.71,263.30 L347.80,264.51 L347.93,265.51 L348.07,266.18 L348.25,267.29 L348.62,267.81 L348.95,269.26 L349.17,269.61 L349.44,270.48 L349.66,271.67 L349.93,272.60 L350.27,273.23 L350.56,274.19 L350.85,275.56 L351.16,276.05 L351.50,277.15 L351.89,277.96 L352.22,279.24 L352.55,280.07 L352.85,281.02 L353.21,281.90 L353.58,282.62 L354.12,283.50 L354.64,284.13 L355.21,284.85 L355.75,285.60 L356.30,286.34 L357.21,286.43 L358.12,286.51 L359.04,286.60 L359.95,286.68 L360.87,286.76 L361.78,286.84 L362.69,286.93 L363.61,287.01 L364.52,287.09 L365.43,287.18 L366.35,287.26" stroke="#62a842" stroke-width="1.15" fill="none" stroke-linejoin="round"/>
<rect x="276.60" y="197.60" width="90.10" height="90.00" fill="none" stroke="#111" stroke-width="1.3" />
<line x1="273.30" y1="287.60" x2="276.60" y2="287.60" stroke="#111" stroke-width="0.9" />
<text x="270.60" y="290.08" font-size="8.6" fill="#1a1a1a" stroke="#1a1a1a" stroke-width="0.1" text-anchor="end" textLength="4.4" lengthAdjust="spacingAndGlyphs" >0</text>
<line x1="275.00" y1="283.33" x2="276.60" y2="283.33" stroke="#111" stroke-width="0.8" />
<line x1="275.00" y1="279.05" x2="276.60" y2="279.05" stroke="#111" stroke-width="0.8" />
<line x1="275.00" y1="274.78" x2="276.60" y2="274.78" stroke="#111" stroke-width="0.8" />
<line x1="273.30" y1="270.50" x2="276.60" y2="270.50" stroke="#111" stroke-width="0.9" />
<text x="270.60" y="272.98" font-size="8.6" fill="#1a1a1a" stroke="#1a1a1a" stroke-width="0.1" text-anchor="end" textLength="8.8" lengthAdjust="spacingAndGlyphs" >20</text>
<line x1="275.00" y1="266.23" x2="276.60" y2="266.23" stroke="#111" stroke-width="0.8" />
<line x1="275.00" y1="261.95" x2="276.60" y2="261.95" stroke="#111" stroke-width="0.8" />
<line x1="275.00" y1="257.68" x2="276.60" y2="257.68" stroke="#111" stroke-width="0.8" />
<line x1="273.30" y1="253.40" x2="276.60" y2="253.40" stroke="#111" stroke-width="0.9" />
<text x="270.60" y="255.88" font-size="8.6" fill="#1a1a1a" stroke="#1a1a1a" stroke-width="0.1" text-anchor="end" textLength="8.8" lengthAdjust="spacingAndGlyphs" >40</text>
<line x1="275.00" y1="249.12" x2="276.60" y2="249.12" stroke="#111" stroke-width="0.8" />
<line x1="275.00" y1="244.85" x2="276.60" y2="244.85" stroke="#111" stroke-width="0.8" />
<line x1="275.00" y1="240.57" x2="276.60" y2="240.57" stroke="#111" stroke-width="0.8" />
<line x1="273.30" y1="236.30" x2="276.60" y2="236.30" stroke="#111" stroke-width="0.9" />
<text x="270.60" y="238.78" font-size="8.6" fill="#1a1a1a" stroke="#1a1a1a" stroke-width="0.1" text-anchor="end" textLength="8.8" lengthAdjust="spacingAndGlyphs" >60</text>
<line x1="275.00" y1="232.03" x2="276.60" y2="232.03" stroke="#111" stroke-width="0.8" />
<line x1="275.00" y1="227.75" x2="276.60" y2="227.75" stroke="#111" stroke-width="0.8" />
<line x1="275.00" y1="223.48" x2="276.60" y2="223.48" stroke="#111" stroke-width="0.8" />
<line x1="273.30" y1="219.20" x2="276.60" y2="219.20" stroke="#111" stroke-width="0.9" />
<text x="270.60" y="221.68" font-size="8.6" fill="#1a1a1a" stroke="#1a1a1a" stroke-width="0.1" text-anchor="end" textLength="8.8" lengthAdjust="spacingAndGlyphs" >80</text>
<line x1="275.00" y1="214.93" x2="276.60" y2="214.93" stroke="#111" stroke-width="0.8" />
<line x1="275.00" y1="210.65" x2="276.60" y2="210.65" stroke="#111" stroke-width="0.8" />
<line x1="275.00" y1="206.38" x2="276.60" y2="206.38" stroke="#111" stroke-width="0.8" />
<line x1="273.30" y1="202.10" x2="276.60" y2="202.10" stroke="#111" stroke-width="0.9" />
<text x="270.60" y="204.58" font-size="8.6" fill="#1a1a1a" stroke="#1a1a1a" stroke-width="0.1" text-anchor="end" textLength="13.2" lengthAdjust="spacingAndGlyphs" >100</text>
<line x1="276.80" y1="287.60" x2="276.80" y2="290.60" stroke="#111" stroke-width="0.9" />
<text x="276.60" y="304.40" font-size="8.6" fill="#1a1a1a" stroke="#1a1a1a" stroke-width="0.1" text-anchor="middle" >10<tspan dy="-3.2" font-size="5.6">0</tspan></text>
<line x1="281.77" y1="287.60" x2="281.77" y2="289.20" stroke="#111" stroke-width="0.7" />
<line x1="284.67" y1="287.60" x2="284.67" y2="289.20" stroke="#111" stroke-width="0.7" />
<line x1="286.73" y1="287.60" x2="286.73" y2="289.20" stroke="#111" stroke-width="0.7" />
<line x1="288.33" y1="287.60" x2="288.33" y2="289.20" stroke="#111" stroke-width="0.7" />
<line x1="289.64" y1="287.60" x2="289.64" y2="289.20" stroke="#111" stroke-width="0.7" />
<line x1="290.74" y1="287.60" x2="290.74" y2="289.20" stroke="#111" stroke-width="0.7" />
<line x1="291.70" y1="287.60" x2="291.70" y2="289.20" stroke="#111" stroke-width="0.7" />
<line x1="292.55" y1="287.60" x2="292.55" y2="289.20" stroke="#111" stroke-width="0.7" />
<line x1="293.30" y1="287.60" x2="293.30" y2="290.60" stroke="#111" stroke-width="0.9" />
<text x="293.10" y="304.40" font-size="8.6" fill="#1a1a1a" stroke="#1a1a1a" stroke-width="0.1" text-anchor="middle" >10<tspan dy="-3.2" font-size="5.6">1</tspan></text>
<line x1="298.27" y1="287.60" x2="298.27" y2="289.20" stroke="#111" stroke-width="0.7" />
<line x1="301.17" y1="287.60" x2="301.17" y2="289.20" stroke="#111" stroke-width="0.7" />
<line x1="303.23" y1="287.60" x2="303.23" y2="289.20" stroke="#111" stroke-width="0.7" />
<line x1="304.83" y1="287.60" x2="304.83" y2="289.20" stroke="#111" stroke-width="0.7" />
<line x1="306.14" y1="287.60" x2="306.14" y2="289.20" stroke="#111" stroke-width="0.7" />
<line x1="307.24" y1="287.60" x2="307.24" y2="289.20" stroke="#111" stroke-width="0.7" />
<line x1="308.20" y1="287.60" x2="308.20" y2="289.20" stroke="#111" stroke-width="0.7" />
<line x1="309.05" y1="287.60" x2="309.05" y2="289.20" stroke="#111" stroke-width="0.7" />
<line x1="309.80" y1="287.60" x2="309.80" y2="290.60" stroke="#111" stroke-width="0.9" />
<text x="309.60" y="304.40" font-size="8.6" fill="#1a1a1a" stroke="#1a1a1a" stroke-width="0.1" text-anchor="middle" >10<tspan dy="-3.2" font-size="5.6">2</tspan></text>
<line x1="314.77" y1="287.60" x2="314.77" y2="289.20" stroke="#111" stroke-width="0.7" />
<line x1="317.67" y1="287.60" x2="317.67" y2="289.20" stroke="#111" stroke-width="0.7" />
<line x1="319.73" y1="287.60" x2="319.73" y2="289.20" stroke="#111" stroke-width="0.7" />
<line x1="321.33" y1="287.60" x2="321.33" y2="289.20" stroke="#111" stroke-width="0.7" />
<line x1="322.64" y1="287.60" x2="322.64" y2="289.20" stroke="#111" stroke-width="0.7" />
<line x1="323.74" y1="287.60" x2="323.74" y2="289.20" stroke="#111" stroke-width="0.7" />
<line x1="324.70" y1="287.60" x2="324.70" y2="289.20" stroke="#111" stroke-width="0.7" />
<line x1="325.55" y1="287.60" x2="325.55" y2="289.20" stroke="#111" stroke-width="0.7" />
<line x1="326.30" y1="287.60" x2="326.30" y2="290.60" stroke="#111" stroke-width="0.9" />
<text x="326.10" y="304.40" font-size="8.6" fill="#1a1a1a" stroke="#1a1a1a" stroke-width="0.1" text-anchor="middle" >10<tspan dy="-3.2" font-size="5.6">3</tspan></text>
<line x1="331.27" y1="287.60" x2="331.27" y2="289.20" stroke="#111" stroke-width="0.7" />
<line x1="334.17" y1="287.60" x2="334.17" y2="289.20" stroke="#111" stroke-width="0.7" />
<line x1="336.23" y1="287.60" x2="336.23" y2="289.20" stroke="#111" stroke-width="0.7" />
<line x1="337.83" y1="287.60" x2="337.83" y2="289.20" stroke="#111" stroke-width="0.7" />
<line x1="339.14" y1="287.60" x2="339.14" y2="289.20" stroke="#111" stroke-width="0.7" />
<line x1="340.24" y1="287.60" x2="340.24" y2="289.20" stroke="#111" stroke-width="0.7" />
<line x1="341.20" y1="287.60" x2="341.20" y2="289.20" stroke="#111" stroke-width="0.7" />
<line x1="342.05" y1="287.60" x2="342.05" y2="289.20" stroke="#111" stroke-width="0.7" />
<line x1="342.80" y1="287.60" x2="342.80" y2="290.60" stroke="#111" stroke-width="0.9" />
<text x="342.60" y="304.40" font-size="8.6" fill="#1a1a1a" stroke="#1a1a1a" stroke-width="0.1" text-anchor="middle" >10<tspan dy="-3.2" font-size="5.6">4</tspan></text>
<line x1="347.77" y1="287.60" x2="347.77" y2="289.20" stroke="#111" stroke-width="0.7" />
<line x1="350.67" y1="287.60" x2="350.67" y2="289.20" stroke="#111" stroke-width="0.7" />
<line x1="352.73" y1="287.60" x2="352.73" y2="289.20" stroke="#111" stroke-width="0.7" />
<line x1="354.33" y1="287.60" x2="354.33" y2="289.20" stroke="#111" stroke-width="0.7" />
<line x1="355.64" y1="287.60" x2="355.64" y2="289.20" stroke="#111" stroke-width="0.7" />
<line x1="356.74" y1="287.60" x2="356.74" y2="289.20" stroke="#111" stroke-width="0.7" />
<line x1="357.70" y1="287.60" x2="357.70" y2="289.20" stroke="#111" stroke-width="0.7" />
<line x1="358.55" y1="287.60" x2="358.55" y2="289.20" stroke="#111" stroke-width="0.7" />
<line x1="359.30" y1="287.60" x2="359.30" y2="290.60" stroke="#111" stroke-width="0.9" />
<text x="359.10" y="304.40" font-size="8.6" fill="#1a1a1a" stroke="#1a1a1a" stroke-width="0.1" text-anchor="middle" >10<tspan dy="-3.2" font-size="5.6">5</tspan></text>
<line x1="364.27" y1="287.60" x2="364.27" y2="289.20" stroke="#111" stroke-width="0.7" />
<text x="321.70" y="192.50" font-size="10.2" fill="#1a1a1a" stroke="#1a1a1a" stroke-width="0.1" text-anchor="middle" textLength="23.7" lengthAdjust="spacingAndGlyphs" style="stroke-width:0.2">HL60</text>
<text x="322.10" y="317.80" font-size="10.752" fill="#1a1a1a" stroke="#1a1a1a" stroke-width="0.1" text-anchor="middle" textLength="17.5" lengthAdjust="spacingAndGlyphs" style="stroke-width:0.22">CD11b</text>
<text x="278.80" y="205.50" font-size="7.9" fill="#1a1a1a" stroke="#1a1a1a" stroke-width="0.1" textLength="43.14" lengthAdjust="spacingAndGlyphs" >PTC299 (nM)</text>
<line x1="279.30" y1="210.70" x2="285.30" y2="210.70" stroke="#e8a35a" stroke-width="1.1" />
<text x="288.30" y="213.54" font-size="7.9" fill="#1a1a1a" stroke="#1a1a1a" stroke-width="0.1" textLength="4.0" lengthAdjust="spacingAndGlyphs" >0</text>
<line x1="279.30" y1="218.90" x2="285.30" y2="218.90" stroke="#7dbb62" stroke-width="1.1" />
<text x="288.30" y="221.74" font-size="7.9" fill="#1a1a1a" stroke="#1a1a1a" stroke-width="0.1" textLength="9.99" lengthAdjust="spacingAndGlyphs" >2.5</text>
<line x1="277.00" y1="253.50" x2="277.00" y2="287.00" stroke="#5ca83c" stroke-width="1.1" />
<path d="M396.83,287.26 L397.74,287.23 L398.65,287.20 L399.57,287.17 L400.48,287.14 L401.39,287.11 L402.31,287.08 L403.22,287.05 L404.13,287.02 L405.05,286.99 L405.96,286.96 L406.88,286.92 L407.79,286.89 L408.70,286.86 L409.62,286.83 L410.53,286.80 L411.44,286.77 L412.36,286.74 L413.27,286.71 L414.18,286.49 L415.10,286.27 L416.01,286.06 L416.92,285.84 L417.84,285.64 L418.75,285.38 L419.67,285.14 L420.58,284.98 L421.48,284.74 L422.39,284.54 L423.19,284.01 L423.98,283.44 L424.76,282.97 L425.54,282.42 L426.34,282.03 L427.10,281.44 L427.86,280.93 L428.30,280.24 L428.72,279.15 L429.09,278.51 L429.46,277.60 L429.88,276.60 L430.27,276.15 L430.68,275.02 L431.12,274.62 L431.48,273.52 L431.82,272.94 L432.14,272.03 L432.32,270.74 L432.61,270.26 L433.00,268.65 L433.12,267.80 L433.40,267.15 L433.75,265.99 L433.90,265.25 L434.25,264.50 L434.55,263.72 L434.62,262.73 L434.83,261.19 L435.05,261.08 L435.22,260.18 L435.28,258.83 L435.39,258.18 L435.55,256.64 L435.76,255.83 L435.96,254.80 L436.05,253.99 L436.25,253.31 L436.40,252.96 L436.70,251.25 L436.79,250.55 L436.99,249.39 L437.27,249.44 L437.35,247.96 L437.44,246.63 L437.67,245.90 L437.95,244.87 L437.94,244.82 L438.22,243.02 L438.40,241.98 L438.57,242.11 L438.81,240.89 L438.85,239.61 L439.00,239.15 L439.25,238.24 L439.38,236.71 L439.66,236.64 L439.84,235.53 L440.06,234.54 L440.16,233.38 L440.41,231.93 L440.57,231.30 L440.85,230.84 L441.23,229.65 L441.45,229.33 L441.69,227.74 L441.83,226.67 L442.13,225.73 L442.53,225.58 L442.88,224.21 L443.14,223.65 L443.32,222.58 L443.73,221.80 L443.93,220.55 L444.03,219.98 L444.29,219.08 L444.66,217.72 L444.76,217.41 L445.06,215.65 L445.16,214.71 L445.69,214.52 L445.89,213.63 L446.44,212.53 L446.67,211.50 L446.99,209.99 L447.78,209.78 L448.29,209.18 L448.88,208.20 L449.88,206.56 L450.67,205.73 L451.58,206.97 L452.50,207.70 L452.83,209.15 L453.25,209.57 L453.66,210.97 L453.99,211.90 L454.38,212.39 L454.58,212.74 L454.77,213.83 L454.87,215.43 L455.11,215.98 L455.44,216.99 L455.55,217.86 L455.81,219.06 L455.91,219.73 L456.15,220.33 L456.44,221.50 L456.58,222.69 L456.84,223.25 L456.96,224.24 L457.12,225.36 L457.29,226.09 L457.48,227.46 L457.71,228.30 L457.94,228.53 L458.04,230.20 L458.29,230.23 L458.31,231.47 L458.48,232.17 L458.67,233.55 L459.00,234.72 L459.05,235.43 L459.34,235.71 L459.57,237.53 L459.61,238.43 L459.83,238.83 L460.15,240.13 L460.15,240.60 L460.41,241.41 L460.52,242.30 L460.82,242.88 L460.96,244.26 L461.03,245.06 L461.34,246.17 L461.40,247.60 L461.75,248.50 L461.82,248.64 L462.04,250.11 L462.32,250.31 L462.58,252.09 L462.89,252.28 L462.98,253.92 L463.30,254.60 L463.42,254.80 L463.83,256.12 L463.96,257.60 L464.36,258.36 L464.51,259.33 L464.78,260.25 L465.14,260.59 L465.44,262.15 L465.65,262.19 L465.98,263.22 L466.16,264.05 L466.49,265.01 L466.89,266.04 L467.33,266.94 L467.62,267.75 L467.93,268.52 L468.26,269.45 L468.69,270.86 L468.94,271.71 L469.46,272.23 L469.85,273.30 L470.21,274.40 L470.60,274.98 L471.04,276.08 L471.41,276.79 L471.85,277.48 L472.23,278.15 L472.61,278.88 L473.13,279.91 L473.67,280.49 L474.19,281.49 L474.75,282.21 L475.24,282.90 L475.77,283.73 L476.29,284.51 L477.21,285.11 L478.13,285.62 L479.04,286.18 L479.95,286.71 L480.87,287.26 Z" stroke="none" stroke-width="1" fill="#f3c890" fill-opacity="0.45"/>
<path d="M396.83,287.26 L397.74,287.24 L398.65,287.21 L399.57,287.19 L400.48,287.16 L401.39,287.14 L402.31,287.12 L403.22,287.09 L404.13,287.07 L405.05,287.04 L405.96,287.02 L406.88,287.00 L407.79,286.97 L408.70,286.95 L409.62,286.92 L410.53,286.90 L411.44,286.87 L412.36,286.85 L413.27,286.83 L414.18,286.80 L415.10,286.78 L416.01,286.75 L416.92,286.73 L417.84,286.71 L418.75,286.68 L419.66,286.66 L420.58,286.63 L421.49,286.61 L422.40,286.59 L423.32,286.56 L424.23,286.53 L425.14,286.51 L426.06,286.49 L426.97,286.48 L427.88,286.44 L428.80,286.42 L429.71,286.40 L430.63,286.36 L431.54,286.34 L432.45,286.16 L433.37,285.96 L434.27,285.79 L435.19,285.63 L436.11,285.42 L437.02,285.25 L437.93,285.03 L438.85,284.85 L439.77,284.75 L440.66,284.51 L441.49,284.18 L442.30,283.67 L443.10,283.39 L443.91,282.91 L444.72,282.50 L445.57,281.99 L446.37,281.68 L447.19,281.33 L447.96,281.00 L448.66,280.01 L449.31,279.49 L450.03,278.72 L450.69,278.05 L451.39,277.62 L452.04,276.89 L452.82,275.85 L453.52,275.52 L453.92,274.43 L454.26,273.68 L454.76,273.02 L455.06,272.08 L455.45,270.94 L455.83,270.81 L456.26,270.11 L456.66,268.66 L457.12,267.76 L457.43,267.66 L457.89,266.59 L458.17,265.79 L458.58,264.48 L458.88,263.01 L459.22,262.54 L459.57,261.84 L459.81,260.27 L460.18,259.45 L460.31,258.77 L460.50,258.29 L460.87,256.85 L461.03,255.98 L461.24,255.17 L461.38,254.00 L461.62,253.91 L461.83,252.24 L462.08,252.18 L462.13,250.32 L462.22,249.36 L462.41,248.44 L462.54,247.71 L462.76,247.49 L462.96,246.06 L463.03,245.27 L463.18,244.15 L463.26,243.17 L463.61,242.09 L463.66,241.73 L463.89,240.36 L463.92,239.48 L464.10,238.79 L464.37,238.32 L464.51,236.49 L464.47,236.34 L464.81,235.16 L464.90,233.73 L465.01,233.83 L465.26,232.84 L465.44,231.26 L465.40,230.24 L465.65,229.91 L465.89,229.04 L465.98,228.18 L466.09,227.03 L466.15,226.37 L466.34,225.61 L466.59,224.01 L466.62,223.04 L466.89,222.62 L466.93,221.02 L467.17,220.67 L467.27,219.36 L467.44,218.21 L467.50,217.79 L467.78,217.08 L467.89,215.98 L467.87,214.82 L468.16,214.41 L468.14,212.74 L468.31,212.55 L468.42,211.18 L468.84,210.91 L469.11,208.92 L469.50,208.34 L469.94,207.09 L471.43,208.42 L472.01,206.73 L472.75,205.75 L472.87,206.58 L472.90,208.07 L473.08,209.20 L473.28,209.27 L473.38,210.44 L473.64,211.94 L473.69,212.24 L473.86,213.79 L473.97,213.69 L474.07,214.98 L474.38,216.43 L474.46,217.47 L474.63,217.65 L474.58,219.23 L474.83,219.15 L474.93,220.44 L474.99,221.31 L475.07,221.86 L475.21,223.15 L475.48,223.82 L475.58,224.82 L475.54,226.41 L475.73,226.90 L475.65,227.86 L475.81,229.26 L475.87,229.56 L476.11,230.11 L476.10,231.88 L476.27,231.95 L476.20,232.88 L476.48,234.01 L476.54,235.63 L476.54,235.86 L476.76,237.15 L476.70,238.17 L476.81,238.60 L476.82,240.04 L477.10,240.82 L477.18,241.06 L477.11,242.47 L477.35,243.91 L477.30,244.05 L477.39,245.23 L477.58,245.81 L477.63,247.33 L477.72,248.28 L477.75,248.70 L477.77,249.66 L477.95,250.26 L477.90,251.91 L477.99,252.07 L478.02,253.52 L478.17,254.90 L478.37,255.83 L478.31,255.74 L478.36,257.11 L478.57,257.97 L478.55,258.85 L478.71,260.05 L478.82,261.15 L478.88,261.27 L479.00,262.37 L479.02,263.37 L479.14,264.09 L479.11,265.06 L479.17,266.67 L479.34,266.98 L479.38,268.58 L479.55,268.73 L479.75,270.05 L479.93,270.47 L479.98,272.00 L480.19,272.97 L480.21,273.41 L480.38,274.26 L480.63,275.44 L480.77,276.22 L480.90,277.18 L481.07,278.26 L481.36,278.87 L481.56,280.00 L481.76,280.82 L481.99,281.70 L482.22,282.71 L482.47,283.55 L482.68,284.50 L483.30,285.41 L483.91,286.34 L484.52,287.26 Z" stroke="none" stroke-width="1" fill="#a6c9ea" fill-opacity="0.45"/>
<path d="M396.83,287.26 L397.74,287.23 L398.65,287.20 L399.57,287.17 L400.48,287.14 L401.39,287.11 L402.31,287.08 L403.22,287.05 L404.13,287.02 L405.05,286.99 L405.96,286.96 L406.88,286.92 L407.79,286.89 L408.70,286.86 L409.62,286.83 L410.53,286.80 L411.44,286.77 L412.36,286.74 L413.27,286.71 L414.18,286.49 L415.10,286.27 L416.01,286.06 L416.92,285.84 L417.84,285.64 L418.75,285.38 L419.67,285.14 L420.58,284.98 L421.48,284.74 L422.39,284.54 L423.19,284.01 L423.98,283.44 L424.76,282.97 L425.54,282.42 L426.34,282.03 L427.10,281.44 L427.86,280.93 L428.30,280.24 L428.72,279.15 L429.09,278.51 L429.46,277.60 L429.88,276.60 L430.27,276.15 L430.68,275.02 L431.12,274.62 L431.48,273.52 L431.82,272.94 L432.14,272.03 L432.32,270.74 L432.61,270.26 L433.00,268.65 L433.12,267.80 L433.40,267.15 L433.75,265.99 L433.90,265.25 L434.25,264.50 L434.55,263.72 L434.62,262.73 L434.83,261.19 L435.05,261.08 L435.22,260.18 L435.28,258.83 L435.39,258.18 L435.55,256.64 L435.76,255.83 L435.96,254.80 L436.05,253.99 L436.25,253.31 L436.40,252.96 L436.70,251.25 L436.79,250.55 L436.99,249.39 L437.27,249.44 L437.35,247.96 L437.44,246.63 L437.67,245.90 L437.95,244.87 L437.94,244.82 L438.22,243.02 L438.40,241.98 L438.57,242.11 L438.81,240.89 L438.85,239.61 L439.00,239.15 L439.25,238.24 L439.38,236.71 L439.66,236.64 L439.84,235.53 L440.06,234.54 L440.16,233.38 L440.41,231.93 L440.57,231.30 L440.85,230.84 L441.23,229.65 L441.45,229.33 L441.69,227.74 L441.83,226.67 L442.13,225.73 L442.53,225.58 L442.88,224.21 L443.14,223.65 L443.32,222.58 L443.73,221.80 L443.93,220.55 L444.03,219.98 L444.29,219.08 L444.66,217.72 L444.76,217.41 L445.06,215.65 L445.16,214.71 L445.69,214.52 L445.89,213.63 L446.44,212.53 L446.67,211.50 L446.99,209.99 L447.78,209.78 L448.29,209.18 L448.88,208.20 L449.88,206.56 L450.67,205.73 L451.58,206.97 L452.50,207.70 L452.83,209.15 L453.25,209.57 L453.66,210.97 L453.99,211.90 L454.38,212.39 L454.58,212.74 L454.77,213.83 L454.87,215.43 L455.11,215.98 L455.44,216.99 L455.55,217.86 L455.81,219.06 L455.91,219.73 L456.15,220.33 L456.44,221.50 L456.58,222.69 L456.84,223.25 L456.96,224.24 L457.12,225.36 L457.29,226.09 L457.48,227.46 L457.71,228.30 L457.94,228.53 L458.04,230.20 L458.29,230.23 L458.31,231.47 L458.48,232.17 L458.67,233.55 L459.00,234.72 L459.05,235.43 L459.34,235.71 L459.57,237.53 L459.61,238.43 L459.83,238.83 L460.15,240.13 L460.15,240.60 L460.41,241.41 L460.52,242.30 L460.82,242.88 L460.96,244.26 L461.03,245.06 L461.34,246.17 L461.40,247.60 L461.75,248.50 L461.82,248.64 L462.04,250.11 L462.32,250.31 L462.58,252.09 L462.89,252.28 L462.98,253.92 L463.30,254.60 L463.42,254.80 L463.83,256.12 L463.96,257.60 L464.36,258.36 L464.51,259.33 L464.78,260.25 L465.14,260.59 L465.44,262.15 L465.65,262.19 L465.98,263.22 L466.16,264.05 L466.49,265.01 L466.89,266.04 L467.33,266.94 L467.62,267.75 L467.93,268.52 L468.26,269.45 L468.69,270.86 L468.94,271.71 L469.46,272.23 L469.85,273.30 L470.21,274.40 L470.60,274.98 L471.04,276.08 L471.41,276.79 L471.85,277.48 L472.23,278.15 L472.61,278.88 L473.13,279.91 L473.67,280.49 L474.19,281.49 L474.75,282.21 L475.24,282.90 L475.77,283.73 L476.29,284.51 L477.21,285.11 L478.13,285.62 L479.04,286.18 L479.95,286.71 L480.87,287.26" stroke="#de9332" stroke-width="1.15" fill="none" stroke-linejoin="round"/>
<path d="M396.83,287.26 L397.74,287.24 L398.65,287.21 L399.57,287.19 L400.48,287.16 L401.39,287.14 L402.31,287.12 L403.22,287.09 L404.13,287.07 L405.05,287.04 L405.96,287.02 L406.88,287.00 L407.79,286.97 L408.70,286.95 L409.62,286.92 L410.53,286.90 L411.44,286.87 L412.36,286.85 L413.27,286.83 L414.18,286.80 L415.10,286.78 L416.01,286.75 L416.92,286.73 L417.84,286.71 L418.75,286.68 L419.66,286.66 L420.58,286.63 L421.49,286.61 L422.40,286.59 L423.32,286.56 L424.23,286.53 L425.14,286.51 L426.06,286.49 L426.97,286.48 L427.88,286.44 L428.80,286.42 L429.71,286.40 L430.63,286.36 L431.54,286.34 L432.45,286.16 L433.37,285.96 L434.27,285.79 L435.19,285.63 L436.11,285.42 L437.02,285.25 L437.93,285.03 L438.85,284.85 L439.77,284.75 L440.66,284.51 L441.49,284.18 L442.30,283.67 L443.10,283.39 L443.91,282.91 L444.72,282.50 L445.57,281.99 L446.37,281.68 L447.19,281.33 L447.96,281.00 L448.66,280.01 L449.31,279.49 L450.03,278.72 L450.69,278.05 L451.39,277.62 L452.04,276.89 L452.82,275.85 L453.52,275.52 L453.92,274.43 L454.26,273.68 L454.76,273.02 L455.06,272.08 L455.45,270.94 L455.83,270.81 L456.26,270.11 L456.66,268.66 L457.12,267.76 L457.43,267.66 L457.89,266.59 L458.17,265.79 L458.58,264.48 L458.88,263.01 L459.22,262.54 L459.57,261.84 L459.81,260.27 L460.18,259.45 L460.31,258.77 L460.50,258.29 L460.87,256.85 L461.03,255.98 L461.24,255.17 L461.38,254.00 L461.62,253.91 L461.83,252.24 L462.08,252.18 L462.13,250.32 L462.22,249.36 L462.41,248.44 L462.54,247.71 L462.76,247.49 L462.96,246.06 L463.03,245.27 L463.18,244.15 L463.26,243.17 L463.61,242.09 L463.66,241.73 L463.89,240.36 L463.92,239.48 L464.10,238.79 L464.37,238.32 L464.51,236.49 L464.47,236.34 L464.81,235.16 L464.90,233.73 L465.01,233.83 L465.26,232.84 L465.44,231.26 L465.40,230.24 L465.65,229.91 L465.89,229.04 L465.98,228.18 L466.09,227.03 L466.15,226.37 L466.34,225.61 L466.59,224.01 L466.62,223.04 L466.89,222.62 L466.93,221.02 L467.17,220.67 L467.27,219.36 L467.44,218.21 L467.50,217.79 L467.78,217.08 L467.89,215.98 L467.87,214.82 L468.16,214.41 L468.14,212.74 L468.31,212.55 L468.42,211.18 L468.84,210.91 L469.11,208.92 L469.50,208.34 L469.94,207.09 L471.43,208.42 L472.01,206.73 L472.75,205.75 L472.87,206.58 L472.90,208.07 L473.08,209.20 L473.28,209.27 L473.38,210.44 L473.64,211.94 L473.69,212.24 L473.86,213.79 L473.97,213.69 L474.07,214.98 L474.38,216.43 L474.46,217.47 L474.63,217.65 L474.58,219.23 L474.83,219.15 L474.93,220.44 L474.99,221.31 L475.07,221.86 L475.21,223.15 L475.48,223.82 L475.58,224.82 L475.54,226.41 L475.73,226.90 L475.65,227.86 L475.81,229.26 L475.87,229.56 L476.11,230.11 L476.10,231.88 L476.27,231.95 L476.20,232.88 L476.48,234.01 L476.54,235.63 L476.54,235.86 L476.76,237.15 L476.70,238.17 L476.81,238.60 L476.82,240.04 L477.10,240.82 L477.18,241.06 L477.11,242.47 L477.35,243.91 L477.30,244.05 L477.39,245.23 L477.58,245.81 L477.63,247.33 L477.72,248.28 L477.75,248.70 L477.77,249.66 L477.95,250.26 L477.90,251.91 L477.99,252.07 L478.02,253.52 L478.17,254.90 L478.37,255.83 L478.31,255.74 L478.36,257.11 L478.57,257.97 L478.55,258.85 L478.71,260.05 L478.82,261.15 L478.88,261.27 L479.00,262.37 L479.02,263.37 L479.14,264.09 L479.11,265.06 L479.17,266.67 L479.34,266.98 L479.38,268.58 L479.55,268.73 L479.75,270.05 L479.93,270.47 L479.98,272.00 L480.19,272.97 L480.21,273.41 L480.38,274.26 L480.63,275.44 L480.77,276.22 L480.90,277.18 L481.07,278.26 L481.36,278.87 L481.56,280.00 L481.76,280.82 L481.99,281.70 L482.22,282.71 L482.47,283.55 L482.68,284.50 L483.30,285.41 L483.91,286.34 L484.52,287.26" stroke="#5a9fdc" stroke-width="1.15" fill="none" stroke-linejoin="round"/>
<rect x="395.90" y="197.40" width="90.10" height="90.40" fill="none" stroke="#111" stroke-width="1.3" />
<line x1="392.60" y1="287.80" x2="395.90" y2="287.80" stroke="#111" stroke-width="0.9" />
<text x="389.90" y="290.28" font-size="8.6" fill="#1a1a1a" stroke="#1a1a1a" stroke-width="0.1" text-anchor="end" textLength="4.4" lengthAdjust="spacingAndGlyphs" >0</text>
<line x1="394.30" y1="283.51" x2="395.90" y2="283.51" stroke="#111" stroke-width="0.8" />
<line x1="394.30" y1="279.23" x2="395.90" y2="279.23" stroke="#111" stroke-width="0.8" />
<line x1="394.30" y1="274.94" x2="395.90" y2="274.94" stroke="#111" stroke-width="0.8" />
<line x1="392.60" y1="270.66" x2="395.90" y2="270.66" stroke="#111" stroke-width="0.9" />
<text x="389.90" y="273.14" font-size="8.6" fill="#1a1a1a" stroke="#1a1a1a" stroke-width="0.1" text-anchor="end" textLength="8.8" lengthAdjust="spacingAndGlyphs" >20</text>
<line x1="394.30" y1="266.38" x2="395.90" y2="266.38" stroke="#111" stroke-width="0.8" />
<line x1="394.30" y1="262.09" x2="395.90" y2="262.09" stroke="#111" stroke-width="0.8" />
<line x1="394.30" y1="257.81" x2="395.90" y2="257.81" stroke="#111" stroke-width="0.8" />
<line x1="392.60" y1="253.52" x2="395.90" y2="253.52" stroke="#111" stroke-width="0.9" />
<text x="389.90" y="256.00" font-size="8.6" fill="#1a1a1a" stroke="#1a1a1a" stroke-width="0.1" text-anchor="end" textLength="8.8" lengthAdjust="spacingAndGlyphs" >40</text>
<line x1="394.30" y1="249.24" x2="395.90" y2="249.24" stroke="#111" stroke-width="0.8" />
<line x1="394.30" y1="244.95" x2="395.90" y2="244.95" stroke="#111" stroke-width="0.8" />
<line x1="394.30" y1="240.66" x2="395.90" y2="240.66" stroke="#111" stroke-width="0.8" />
<line x1="392.60" y1="236.38" x2="395.90" y2="236.38" stroke="#111" stroke-width="0.9" />
<text x="389.90" y="238.86" font-size="8.6" fill="#1a1a1a" stroke="#1a1a1a" stroke-width="0.1" text-anchor="end" textLength="8.8" lengthAdjust="spacingAndGlyphs" >60</text>
<line x1="394.30" y1="232.09" x2="395.90" y2="232.09" stroke="#111" stroke-width="0.8" />
<line x1="394.30" y1="227.81" x2="395.90" y2="227.81" stroke="#111" stroke-width="0.8" />
<line x1="394.30" y1="223.53" x2="395.90" y2="223.53" stroke="#111" stroke-width="0.8" />
<line x1="392.60" y1="219.24" x2="395.90" y2="219.24" stroke="#111" stroke-width="0.9" />
<text x="389.90" y="221.72" font-size="8.6" fill="#1a1a1a" stroke="#1a1a1a" stroke-width="0.1" text-anchor="end" textLength="8.8" lengthAdjust="spacingAndGlyphs" >80</text>
<line x1="394.30" y1="214.95" x2="395.90" y2="214.95" stroke="#111" stroke-width="0.8" />
<line x1="394.30" y1="210.67" x2="395.90" y2="210.67" stroke="#111" stroke-width="0.8" />
<line x1="394.30" y1="206.38" x2="395.90" y2="206.38" stroke="#111" stroke-width="0.8" />
<line x1="392.60" y1="202.10" x2="395.90" y2="202.10" stroke="#111" stroke-width="0.9" />
<text x="389.90" y="204.58" font-size="8.6" fill="#1a1a1a" stroke="#1a1a1a" stroke-width="0.1" text-anchor="end" textLength="13.2" lengthAdjust="spacingAndGlyphs" >100</text>
<line x1="396.10" y1="287.80" x2="396.10" y2="290.80" stroke="#111" stroke-width="0.9" />
<text x="395.90" y="304.60" font-size="8.6" fill="#1a1a1a" stroke="#1a1a1a" stroke-width="0.1" text-anchor="middle" >10<tspan dy="-3.2" font-size="5.6">0</tspan></text>
<line x1="401.07" y1="287.80" x2="401.07" y2="289.40" stroke="#111" stroke-width="0.7" />
<line x1="403.97" y1="287.80" x2="403.97" y2="289.40" stroke="#111" stroke-width="0.7" />
<line x1="406.03" y1="287.80" x2="406.03" y2="289.40" stroke="#111" stroke-width="0.7" />
<line x1="407.63" y1="287.80" x2="407.63" y2="289.40" stroke="#111" stroke-width="0.7" />
<line x1="408.94" y1="287.80" x2="408.94" y2="289.40" stroke="#111" stroke-width="0.7" />
<line x1="410.04" y1="287.80" x2="410.04" y2="289.40" stroke="#111" stroke-width="0.7" />
<line x1="411.00" y1="287.80" x2="411.00" y2="289.40" stroke="#111" stroke-width="0.7" />
<line x1="411.85" y1="287.80" x2="411.85" y2="289.40" stroke="#111" stroke-width="0.7" />
<line x1="412.60" y1="287.80" x2="412.60" y2="290.80" stroke="#111" stroke-width="0.9" />
<text x="412.40" y="304.60" font-size="8.6" fill="#1a1a1a" stroke="#1a1a1a" stroke-width="0.1" text-anchor="middle" >10<tspan dy="-3.2" font-size="5.6">1</tspan></text>
<line x1="417.57" y1="287.80" x2="417.57" y2="289.40" stroke="#111" stroke-width="0.7" />
<line x1="420.47" y1="287.80" x2="420.47" y2="289.40" stroke="#111" stroke-width="0.7" />
<line x1="422.53" y1="287.80" x2="422.53" y2="289.40" stroke="#111" stroke-width="0.7" />
<line x1="424.13" y1="287.80" x2="424.13" y2="289.40" stroke="#111" stroke-width="0.7" />
<line x1="425.44" y1="287.80" x2="425.44" y2="289.40" stroke="#111" stroke-width="0.7" />
<line x1="426.54" y1="287.80" x2="426.54" y2="289.40" stroke="#111" stroke-width="0.7" />
<line x1="427.50" y1="287.80" x2="427.50" y2="289.40" stroke="#111" stroke-width="0.7" />
<line x1="428.35" y1="287.80" x2="428.35" y2="289.40" stroke="#111" stroke-width="0.7" />
<line x1="429.10" y1="287.80" x2="429.10" y2="290.80" stroke="#111" stroke-width="0.9" />
<text x="428.90" y="304.60" font-size="8.6" fill="#1a1a1a" stroke="#1a1a1a" stroke-width="0.1" text-anchor="middle" >10<tspan dy="-3.2" font-size="5.6">2</tspan></text>
<line x1="434.07" y1="287.80" x2="434.07" y2="289.40" stroke="#111" stroke-width="0.7" />
<line x1="436.97" y1="287.80" x2="436.97" y2="289.40" stroke="#111" stroke-width="0.7" />
<line x1="439.03" y1="287.80" x2="439.03" y2="289.40" stroke="#111" stroke-width="0.7" />
<line x1="440.63" y1="287.80" x2="440.63" y2="289.40" stroke="#111" stroke-width="0.7" />
<line x1="441.94" y1="287.80" x2="441.94" y2="289.40" stroke="#111" stroke-width="0.7" />
<line x1="443.04" y1="287.80" x2="443.04" y2="289.40" stroke="#111" stroke-width="0.7" />
<line x1="444.00" y1="287.80" x2="444.00" y2="289.40" stroke="#111" stroke-width="0.7" />
<line x1="444.85" y1="287.80" x2="444.85" y2="289.40" stroke="#111" stroke-width="0.7" />
<line x1="445.60" y1="287.80" x2="445.60" y2="290.80" stroke="#111" stroke-width="0.9" />
<text x="445.40" y="304.60" font-size="8.6" fill="#1a1a1a" stroke="#1a1a1a" stroke-width="0.1" text-anchor="middle" >10<tspan dy="-3.2" font-size="5.6">3</tspan></text>
<line x1="450.57" y1="287.80" x2="450.57" y2="289.40" stroke="#111" stroke-width="0.7" />
<line x1="453.47" y1="287.80" x2="453.47" y2="289.40" stroke="#111" stroke-width="0.7" />
<line x1="455.53" y1="287.80" x2="455.53" y2="289.40" stroke="#111" stroke-width="0.7" />
<line x1="457.13" y1="287.80" x2="457.13" y2="289.40" stroke="#111" stroke-width="0.7" />
<line x1="458.44" y1="287.80" x2="458.44" y2="289.40" stroke="#111" stroke-width="0.7" />
<line x1="459.54" y1="287.80" x2="459.54" y2="289.40" stroke="#111" stroke-width="0.7" />
<line x1="460.50" y1="287.80" x2="460.50" y2="289.40" stroke="#111" stroke-width="0.7" />
<line x1="461.35" y1="287.80" x2="461.35" y2="289.40" stroke="#111" stroke-width="0.7" />
<line x1="462.10" y1="287.80" x2="462.10" y2="290.80" stroke="#111" stroke-width="0.9" />
<text x="461.90" y="304.60" font-size="8.6" fill="#1a1a1a" stroke="#1a1a1a" stroke-width="0.1" text-anchor="middle" >10<tspan dy="-3.2" font-size="5.6">4</tspan></text>
<line x1="467.07" y1="287.80" x2="467.07" y2="289.40" stroke="#111" stroke-width="0.7" />
<line x1="469.97" y1="287.80" x2="469.97" y2="289.40" stroke="#111" stroke-width="0.7" />
<line x1="472.03" y1="287.80" x2="472.03" y2="289.40" stroke="#111" stroke-width="0.7" />
<line x1="473.63" y1="287.80" x2="473.63" y2="289.40" stroke="#111" stroke-width="0.7" />
<line x1="474.94" y1="287.80" x2="474.94" y2="289.40" stroke="#111" stroke-width="0.7" />
<line x1="476.04" y1="287.80" x2="476.04" y2="289.40" stroke="#111" stroke-width="0.7" />
<line x1="477.00" y1="287.80" x2="477.00" y2="289.40" stroke="#111" stroke-width="0.7" />
<line x1="477.85" y1="287.80" x2="477.85" y2="289.40" stroke="#111" stroke-width="0.7" />
<line x1="478.60" y1="287.80" x2="478.60" y2="290.80" stroke="#111" stroke-width="0.9" />
<text x="478.40" y="304.60" font-size="8.6" fill="#1a1a1a" stroke="#1a1a1a" stroke-width="0.1" text-anchor="middle" >10<tspan dy="-3.2" font-size="5.6">5</tspan></text>
<line x1="483.57" y1="287.80" x2="483.57" y2="289.40" stroke="#111" stroke-width="0.7" />
<text x="440.50" y="192.40" font-size="10.2" fill="#1a1a1a" stroke="#1a1a1a" stroke-width="0.1" text-anchor="middle" textLength="25.1" lengthAdjust="spacingAndGlyphs" style="stroke-width:0.2">THP-1</text>
<text x="441.00" y="317.80" font-size="10.752" fill="#1a1a1a" stroke="#1a1a1a" stroke-width="0.1" text-anchor="middle" textLength="17.5" lengthAdjust="spacingAndGlyphs" style="stroke-width:0.22">CD11b</text>
<text x="398.50" y="205.50" font-size="7.9" fill="#1a1a1a" stroke="#1a1a1a" stroke-width="0.1" textLength="43.14" lengthAdjust="spacingAndGlyphs" >PTC299 (nM)</text>
<line x1="399.00" y1="210.70" x2="405.00" y2="210.70" stroke="#e8a35a" stroke-width="1.1" />
<text x="408.00" y="213.54" font-size="7.9" fill="#1a1a1a" stroke="#1a1a1a" stroke-width="0.1" textLength="4.0" lengthAdjust="spacingAndGlyphs" >0</text>
<line x1="399.00" y1="218.90" x2="405.00" y2="218.90" stroke="#6cabe3" stroke-width="1.1" />
<text x="408.00" y="221.74" font-size="7.9" fill="#1a1a1a" stroke="#1a1a1a" stroke-width="0.1" textLength="8.0" lengthAdjust="spacingAndGlyphs" >10</text>
<text x="250.70" y="243.00" font-size="8.61" fill="#1a1a1a" stroke="#1a1a1a" stroke-width="0.1" text-anchor="middle" textLength="28" lengthAdjust="spacingAndGlyphs" transform="rotate(-90 250.70 243.00)" style="stroke-width:0.22">% of max</text>
<text x="85.20" y="354.30" font-size="10.2" fill="#1a1a1a" stroke="#1a1a1a" stroke-width="0.1" text-anchor="middle" textLength="28.8" lengthAdjust="spacingAndGlyphs" style="stroke-width:0.2">MDS·L</text>
<line x1="39.50" y1="359.30" x2="39.50" y2="451.50" stroke="#161616" stroke-width="1.2" stroke-linecap="round"/>
<line x1="35.80" y1="450.90" x2="39.50" y2="450.90" stroke="#161616" stroke-width="1.0" />
<text x="32.70" y="453.68" font-size="8.6" fill="#1a1a1a" stroke="#1a1a1a" stroke-width="0.1" text-anchor="end" textLength="4.4" lengthAdjust="spacingAndGlyphs" >0</text>
<line x1="35.80" y1="433.20" x2="39.50" y2="433.20" stroke="#161616" stroke-width="1.0" />
<text x="32.70" y="435.98" font-size="8.6" fill="#1a1a1a" stroke="#1a1a1a" stroke-width="0.1" text-anchor="end" textLength="4.4" lengthAdjust="spacingAndGlyphs" >2</text>
<line x1="35.80" y1="415.50" x2="39.50" y2="415.50" stroke="#161616" stroke-width="1.0" />
<text x="32.70" y="418.28" font-size="8.6" fill="#1a1a1a" stroke="#1a1a1a" stroke-width="0.1" text-anchor="end" textLength="4.4" lengthAdjust="spacingAndGlyphs" >4</text>
<line x1="35.80" y1="397.80" x2="39.50" y2="397.80" stroke="#161616" stroke-width="1.0" />
<text x="32.70" y="400.58" font-size="8.6" fill="#1a1a1a" stroke="#1a1a1a" stroke-width="0.1" text-anchor="end" textLength="4.4" lengthAdjust="spacingAndGlyphs" >6</text>
<line x1="35.80" y1="380.10" x2="39.50" y2="380.10" stroke="#161616" stroke-width="1.0" />
<text x="32.70" y="382.88" font-size="8.6" fill="#1a1a1a" stroke="#1a1a1a" stroke-width="0.1" text-anchor="end" textLength="4.4" lengthAdjust="spacingAndGlyphs" >8</text>
<line x1="35.80" y1="362.40" x2="39.50" y2="362.40" stroke="#161616" stroke-width="1.0" />
<text x="32.70" y="365.18" font-size="8.6" fill="#1a1a1a" stroke="#1a1a1a" stroke-width="0.1" text-anchor="end" textLength="8.8" lengthAdjust="spacingAndGlyphs" >10</text>
<line x1="38.90" y1="451.50" x2="131.50" y2="451.50" stroke="#161616" stroke-width="1.2" />
<line x1="38.70" y1="451.70" x2="38.70" y2="454.90" stroke="#161616" stroke-width="1.0" />
<text x="38.70" y="465.38" font-size="8.6" fill="#1a1a1a" stroke="#1a1a1a" stroke-width="0.1" text-anchor="middle" textLength="4.4" lengthAdjust="spacingAndGlyphs" >0</text>
<line x1="68.70" y1="451.70" x2="68.70" y2="454.90" stroke="#161616" stroke-width="1.0" />
<text x="68.70" y="465.38" font-size="8.6" fill="#1a1a1a" stroke="#1a1a1a" stroke-width="0.1" text-anchor="middle" textLength="4.4" lengthAdjust="spacingAndGlyphs" >2</text>
<line x1="98.70" y1="451.70" x2="98.70" y2="454.90" stroke="#161616" stroke-width="1.0" />
<text x="98.70" y="465.38" font-size="8.6" fill="#1a1a1a" stroke="#1a1a1a" stroke-width="0.1" text-anchor="middle" textLength="4.4" lengthAdjust="spacingAndGlyphs" >4</text>
<line x1="128.70" y1="451.70" x2="128.70" y2="454.90" stroke="#161616" stroke-width="1.0" />
<text x="128.70" y="465.38" font-size="8.6" fill="#1a1a1a" stroke="#1a1a1a" stroke-width="0.1" text-anchor="middle" textLength="4.4" lengthAdjust="spacingAndGlyphs" >6</text>
<text x="19.40" y="403.70" font-size="8.61" fill="#1a1a1a" stroke="#1a1a1a" stroke-width="0.1" text-anchor="middle" textLength="61.4" lengthAdjust="spacingAndGlyphs" transform="rotate(-90 19.40 403.70)" style="stroke-width:0.22">Cell number (×10<tspan dy="-3" font-size="6.3">5</tspan><tspan dy="3">)</tspan></text>
<text x="85.30" y="478.10" font-size="11.008" fill="#1a1a1a" stroke="#1a1a1a" stroke-width="0.1" text-anchor="middle" textLength="14.2" lengthAdjust="spacingAndGlyphs" style="stroke-width:0.22">Days</text>
<text x="45.80" y="366.90" font-size="7.9" fill="#1a1a1a" stroke="#1a1a1a" stroke-width="0.1" textLength="43.14" lengthAdjust="spacingAndGlyphs" >PTC299 (nM)</text>
<path d="M38.70,449.13 L68.70,442.94 L98.70,435.85 L128.70,411.07" stroke="#9a7cc2" stroke-width="1.0" fill="none" stroke-linejoin="round"/>
<path d="M36.18,447.15 L41.22,447.15 L38.70,451.90 Z" stroke="none" stroke-width="1" fill="#9a7cc2" />
<path d="M66.18,440.95 L71.22,440.95 L68.70,445.71 Z" stroke="none" stroke-width="1" fill="#9a7cc2" />
<path d="M96.18,433.87 L101.22,433.87 L98.70,438.63 Z" stroke="none" stroke-width="1" fill="#9a7cc2" />
<path d="M126.18,409.09 L131.22,409.09 L128.70,413.85 Z" stroke="none" stroke-width="1" fill="#9a7cc2" />
<path d="M38.70,449.13 L68.70,443.82 L98.70,437.62 L128.70,413.29" stroke="#4a2a7c" stroke-width="1.25" fill="none" stroke-linejoin="round"/>
<path d="M36.18,451.11 L41.22,451.11 L38.70,446.36 Z" stroke="none" stroke-width="1" fill="#4a2a7c" />
<path d="M66.18,445.80 L71.22,445.80 L68.70,441.05 Z" stroke="none" stroke-width="1" fill="#4a2a7c" />
<path d="M96.18,439.61 L101.22,439.61 L98.70,434.85 Z" stroke="none" stroke-width="1" fill="#4a2a7c" />
<path d="M126.18,415.27 L131.22,415.27 L128.70,410.52 Z" stroke="none" stroke-width="1" fill="#4a2a7c" />
<path d="M38.70,449.13 L68.70,444.26 L98.70,434.53 L128.70,409.30" stroke="#6cb446" stroke-width="1.25" fill="none" stroke-linejoin="round"/>
<rect x="36.54" y="446.97" width="4.32" height="4.32" fill="#6cb446" stroke="none" stroke-width="1" />
<rect x="66.54" y="442.10" width="4.32" height="4.32" fill="#6cb446" stroke="none" stroke-width="1" />
<rect x="96.54" y="432.37" width="4.32" height="4.32" fill="#6cb446" stroke="none" stroke-width="1" />
<rect x="126.54" y="407.14" width="4.32" height="4.32" fill="#6cb446" stroke="none" stroke-width="1" />
<path d="M38.70,449.13 L68.70,439.39 L98.70,430.54 L128.70,382.31" stroke="#e3930f" stroke-width="1.25" fill="none" stroke-linejoin="round"/>
<line x1="68.70" y1="438.07" x2="68.70" y2="440.72" stroke="#e3930f" stroke-width="0.8" />
<line x1="67.10" y1="438.07" x2="70.30" y2="438.07" stroke="#e3930f" stroke-width="0.8" />
<line x1="67.10" y1="440.72" x2="70.30" y2="440.72" stroke="#e3930f" stroke-width="0.8" />
<line x1="98.70" y1="428.33" x2="98.70" y2="432.76" stroke="#e3930f" stroke-width="0.8" />
<line x1="97.10" y1="428.33" x2="100.30" y2="428.33" stroke="#e3930f" stroke-width="0.8" />
<line x1="97.10" y1="432.76" x2="100.30" y2="432.76" stroke="#e3930f" stroke-width="0.8" />
<line x1="128.70" y1="379.21" x2="128.70" y2="385.41" stroke="#e3930f" stroke-width="0.8" />
<line x1="127.10" y1="379.21" x2="130.30" y2="379.21" stroke="#e3930f" stroke-width="0.8" />
<line x1="127.10" y1="385.41" x2="130.30" y2="385.41" stroke="#e3930f" stroke-width="0.8" />
<circle cx="38.70" cy="449.13" r="2.40" fill="#e3930f"/>
<circle cx="68.70" cy="439.39" r="2.40" fill="#e3930f"/>
<circle cx="98.70" cy="430.54" r="2.40" fill="#e3930f"/>
<circle cx="128.70" cy="382.31" r="2.40" fill="#e3930f"/>
<line x1="45.50" y1="373.80" x2="52.20" y2="373.80" stroke="#e3930f" stroke-width="1.1" />
<circle cx="48.85" cy="373.80" r="2.00" fill="#e3930f"/>
<text x="53.80" y="376.64" font-size="7.9" fill="#1a1a1a" stroke="#1a1a1a" stroke-width="0.1" textLength="4.0" lengthAdjust="spacingAndGlyphs" >0</text>
<line x1="45.50" y1="383.20" x2="52.20" y2="383.20" stroke="#6cb446" stroke-width="1.1" />
<rect x="47.05" y="381.40" width="3.60" height="3.60" fill="#6cb446" stroke="none" stroke-width="1" />
<text x="53.80" y="386.04" font-size="7.9" fill="#1a1a1a" stroke="#1a1a1a" stroke-width="0.1" textLength="8.0" lengthAdjust="spacingAndGlyphs" >30</text>
<line x1="45.50" y1="392.60" x2="52.20" y2="392.60" stroke="#4a2a7c" stroke-width="1.1" />
<path d="M46.75,394.25 L50.95,394.25 L48.85,390.29 Z" stroke="none" stroke-width="1" fill="#4a2a7c" />
<text x="53.80" y="395.44" font-size="7.9" fill="#1a1a1a" stroke="#1a1a1a" stroke-width="0.1" textLength="8.0" lengthAdjust="spacingAndGlyphs" >60</text>
<line x1="45.50" y1="402.00" x2="52.20" y2="402.00" stroke="#9a7cc2" stroke-width="1.1" />
<path d="M46.75,400.35 L50.95,400.35 L48.85,404.31 Z" stroke="none" stroke-width="1" fill="#9a7cc2" />
<text x="53.80" y="404.84" font-size="7.9" fill="#1a1a1a" stroke="#1a1a1a" stroke-width="0.1" textLength="8.0" lengthAdjust="spacingAndGlyphs" >90</text>
<path d="M131.30,379.70 L133.10,379.70 L133.10,414.30 L131.30,414.30" stroke="#c42d55" stroke-width="1.1" fill="none" />
<circle cx="137.00" cy="394.30" r="1.00" fill="#c42d55"/>
<circle cx="137.00" cy="397.00" r="1.00" fill="#c42d55"/>
<circle cx="137.00" cy="399.70" r="1.00" fill="#c42d55"/>
<text x="202.70" y="354.40" font-size="10.2" fill="#1a1a1a" stroke="#1a1a1a" stroke-width="0.1" text-anchor="middle" textLength="27" lengthAdjust="spacingAndGlyphs" style="stroke-width:0.2">SKM-1</text>
<line x1="157.50" y1="359.50" x2="157.50" y2="451.50" stroke="#161616" stroke-width="1.2" stroke-linecap="round"/>
<line x1="154.20" y1="450.90" x2="157.50" y2="450.90" stroke="#161616" stroke-width="1.0" />
<text x="151.10" y="453.68" font-size="8.6" fill="#1a1a1a" stroke="#1a1a1a" stroke-width="0.1" text-anchor="end" textLength="4.4" lengthAdjust="spacingAndGlyphs" >0</text>
<line x1="154.20" y1="428.77" x2="157.50" y2="428.77" stroke="#161616" stroke-width="1.0" />
<text x="151.10" y="431.55" font-size="8.6" fill="#1a1a1a" stroke="#1a1a1a" stroke-width="0.1" text-anchor="end" textLength="4.4" lengthAdjust="spacingAndGlyphs" >5</text>
<line x1="154.20" y1="406.65" x2="157.50" y2="406.65" stroke="#161616" stroke-width="1.0" />
<text x="151.10" y="409.43" font-size="8.6" fill="#1a1a1a" stroke="#1a1a1a" stroke-width="0.1" text-anchor="end" textLength="8.8" lengthAdjust="spacingAndGlyphs" >10</text>
<line x1="154.20" y1="384.52" x2="157.50" y2="384.52" stroke="#161616" stroke-width="1.0" />
<text x="151.10" y="387.30" font-size="8.6" fill="#1a1a1a" stroke="#1a1a1a" stroke-width="0.1" text-anchor="end" textLength="8.8" lengthAdjust="spacingAndGlyphs" >15</text>
<line x1="154.20" y1="362.40" x2="157.50" y2="362.40" stroke="#161616" stroke-width="1.0" />
<text x="151.10" y="365.18" font-size="8.6" fill="#1a1a1a" stroke="#1a1a1a" stroke-width="0.1" text-anchor="end" textLength="8.8" lengthAdjust="spacingAndGlyphs" >20</text>
<line x1="156.90" y1="451.50" x2="249.40" y2="451.50" stroke="#161616" stroke-width="1.2" />
<line x1="157.60" y1="451.70" x2="157.60" y2="454.90" stroke="#161616" stroke-width="1.0" />
<text x="157.60" y="465.38" font-size="8.6" fill="#1a1a1a" stroke="#1a1a1a" stroke-width="0.1" text-anchor="middle" textLength="4.4" lengthAdjust="spacingAndGlyphs" >0</text>
<line x1="187.30" y1="451.70" x2="187.30" y2="454.90" stroke="#161616" stroke-width="1.0" />
<text x="187.30" y="465.38" font-size="8.6" fill="#1a1a1a" stroke="#1a1a1a" stroke-width="0.1" text-anchor="middle" textLength="4.4" lengthAdjust="spacingAndGlyphs" >2</text>
<line x1="217.00" y1="451.70" x2="217.00" y2="454.90" stroke="#161616" stroke-width="1.0" />
<text x="217.00" y="465.38" font-size="8.6" fill="#1a1a1a" stroke="#1a1a1a" stroke-width="0.1" text-anchor="middle" textLength="4.4" lengthAdjust="spacingAndGlyphs" >4</text>
<line x1="246.70" y1="451.70" x2="246.70" y2="454.90" stroke="#161616" stroke-width="1.0" />
<text x="246.70" y="465.38" font-size="8.6" fill="#1a1a1a" stroke="#1a1a1a" stroke-width="0.1" text-anchor="middle" textLength="4.4" lengthAdjust="spacingAndGlyphs" >6</text>
<text x="204.30" y="478.50" font-size="11.008" fill="#1a1a1a" stroke="#1a1a1a" stroke-width="0.1" text-anchor="middle" textLength="14.2" lengthAdjust="spacingAndGlyphs" style="stroke-width:0.22">Days</text>
<text x="164.70" y="366.90" font-size="7.9" fill="#1a1a1a" stroke="#1a1a1a" stroke-width="0.1" textLength="43.14" lengthAdjust="spacingAndGlyphs" >PTC299 (nM)</text>
<path d="M157.60,450.46 L187.30,447.36 L217.00,440.72 L246.70,422.14" stroke="#9a7cc2" stroke-width="1.0" fill="none" stroke-linejoin="round"/>
<line x1="217.00" y1="438.51" x2="217.00" y2="442.94" stroke="#9a7cc2" stroke-width="0.8" />
<line x1="215.40" y1="438.51" x2="218.60" y2="438.51" stroke="#9a7cc2" stroke-width="0.8" />
<line x1="215.40" y1="442.94" x2="218.60" y2="442.94" stroke="#9a7cc2" stroke-width="0.8" />
<line x1="246.70" y1="417.71" x2="246.70" y2="426.56" stroke="#9a7cc2" stroke-width="0.8" />
<line x1="245.10" y1="417.71" x2="248.30" y2="417.71" stroke="#9a7cc2" stroke-width="0.8" />
<line x1="245.10" y1="426.56" x2="248.30" y2="426.56" stroke="#9a7cc2" stroke-width="0.8" />
<path d="M155.08,448.48 L160.12,448.48 L157.60,453.23 Z" stroke="none" stroke-width="1" fill="#9a7cc2" />
<path d="M184.78,445.38 L189.82,445.38 L187.30,450.13 Z" stroke="none" stroke-width="1" fill="#9a7cc2" />
<path d="M214.48,438.74 L219.52,438.74 L217.00,443.49 Z" stroke="none" stroke-width="1" fill="#9a7cc2" />
<path d="M244.18,420.16 L249.22,420.16 L246.70,424.91 Z" stroke="none" stroke-width="1" fill="#9a7cc2" />
<path d="M157.60,450.46 L187.30,447.80 L217.00,439.39 L246.70,403.55" stroke="#4a2a7c" stroke-width="1.25" fill="none" stroke-linejoin="round"/>
<line x1="246.70" y1="400.45" x2="246.70" y2="406.65" stroke="#4a2a7c" stroke-width="0.8" />
<line x1="245.10" y1="400.45" x2="248.30" y2="400.45" stroke="#4a2a7c" stroke-width="0.8" />
<line x1="245.10" y1="406.65" x2="248.30" y2="406.65" stroke="#4a2a7c" stroke-width="0.8" />
<path d="M155.08,452.44 L160.12,452.44 L157.60,447.69 Z" stroke="none" stroke-width="1" fill="#4a2a7c" />
<path d="M184.78,449.78 L189.82,449.78 L187.30,445.03 Z" stroke="none" stroke-width="1" fill="#4a2a7c" />
<path d="M214.48,441.38 L219.52,441.38 L217.00,436.62 Z" stroke="none" stroke-width="1" fill="#4a2a7c" />
<path d="M244.18,405.53 L249.22,405.53 L246.70,400.78 Z" stroke="none" stroke-width="1" fill="#4a2a7c" />
<path d="M157.60,450.46 L187.30,447.80 L217.00,437.62 L246.70,387.18" stroke="#6cb446" stroke-width="1.25" fill="none" stroke-linejoin="round"/>
<rect x="155.44" y="448.30" width="4.32" height="4.32" fill="#6cb446" stroke="none" stroke-width="1" />
<rect x="185.14" y="445.64" width="4.32" height="4.32" fill="#6cb446" stroke="none" stroke-width="1" />
<rect x="214.84" y="435.46" width="4.32" height="4.32" fill="#6cb446" stroke="none" stroke-width="1" />
<rect x="244.54" y="385.02" width="4.32" height="4.32" fill="#6cb446" stroke="none" stroke-width="1" />
<path d="M157.60,450.46 L187.30,447.80 L217.00,434.97 L246.70,383.64" stroke="#e3930f" stroke-width="1.25" fill="none" stroke-linejoin="round"/>
<line x1="217.00" y1="433.64" x2="217.00" y2="436.30" stroke="#e3930f" stroke-width="0.8" />
<line x1="215.40" y1="433.64" x2="218.60" y2="433.64" stroke="#e3930f" stroke-width="0.8" />
<line x1="215.40" y1="436.30" x2="218.60" y2="436.30" stroke="#e3930f" stroke-width="0.8" />
<line x1="246.70" y1="376.56" x2="246.70" y2="390.72" stroke="#e3930f" stroke-width="0.8" />
<line x1="245.10" y1="376.56" x2="248.30" y2="376.56" stroke="#e3930f" stroke-width="0.8" />
<line x1="245.10" y1="390.72" x2="248.30" y2="390.72" stroke="#e3930f" stroke-width="0.8" />
<circle cx="157.60" cy="450.46" r="2.40" fill="#e3930f"/>
<circle cx="187.30" cy="447.80" r="2.40" fill="#e3930f"/>
<circle cx="217.00" cy="434.97" r="2.40" fill="#e3930f"/>
<circle cx="246.70" cy="383.64" r="2.40" fill="#e3930f"/>
<line x1="165.70" y1="374.30" x2="172.80" y2="374.30" stroke="#e3930f" stroke-width="1.1" />
<circle cx="169.25" cy="374.30" r="2.00" fill="#e3930f"/>
<text x="175.80" y="377.14" font-size="7.9" fill="#1a1a1a" stroke="#1a1a1a" stroke-width="0.1" textLength="4.0" lengthAdjust="spacingAndGlyphs" >0</text>
<line x1="165.70" y1="384.10" x2="172.80" y2="384.10" stroke="#6cb446" stroke-width="1.1" />
<rect x="167.45" y="382.30" width="3.60" height="3.60" fill="#6cb446" stroke="none" stroke-width="1" />
<text x="175.80" y="386.94" font-size="7.9" fill="#1a1a1a" stroke="#1a1a1a" stroke-width="0.1" textLength="8.0" lengthAdjust="spacingAndGlyphs" >10</text>
<line x1="165.70" y1="394.30" x2="172.80" y2="394.30" stroke="#4a2a7c" stroke-width="1.1" />
<path d="M167.15,395.95 L171.35,395.95 L169.25,391.99 Z" stroke="none" stroke-width="1" fill="#4a2a7c" />
<text x="175.80" y="397.14" font-size="7.9" fill="#1a1a1a" stroke="#1a1a1a" stroke-width="0.1" textLength="8.0" lengthAdjust="spacingAndGlyphs" >20</text>
<line x1="165.70" y1="404.20" x2="172.80" y2="404.20" stroke="#9a7cc2" stroke-width="1.1" />
<path d="M167.15,402.55 L171.35,402.55 L169.25,406.51 Z" stroke="none" stroke-width="1" fill="#9a7cc2" />
<text x="175.80" y="407.04" font-size="7.9" fill="#1a1a1a" stroke="#1a1a1a" stroke-width="0.1" textLength="8.0" lengthAdjust="spacingAndGlyphs" >30</text>
<path d="M250.90,381.00 L252.70,381.00 L252.70,403.00 L250.90,403.00" stroke="#c42d55" stroke-width="1.1" fill="none" />
<circle cx="255.50" cy="392.00" r="1.00" fill="#c42d55"/>
<path d="M255.70,381.00 L257.50,381.00 L257.50,422.90 L255.70,422.90" stroke="#c42d55" stroke-width="1.1" fill="none" />
<circle cx="260.70" cy="398.30" r="1.00" fill="#c42d55"/>
<circle cx="260.70" cy="401.00" r="1.00" fill="#c42d55"/>
<circle cx="260.70" cy="403.70" r="1.00" fill="#c42d55"/>
<text x="345.25" y="353.60" font-size="10.2" fill="#1a1a1a" stroke="#1a1a1a" stroke-width="0.1" text-anchor="middle" textLength="28.9" lengthAdjust="spacingAndGlyphs" style="stroke-width:0.2">MDS·L</text>
<line x1="300.50" y1="358.40" x2="300.50" y2="452.00" stroke="#161616" stroke-width="1.2" stroke-linecap="round"/>
<line x1="296.80" y1="451.30" x2="300.50" y2="451.30" stroke="#161616" stroke-width="1.0" />
<text x="293.70" y="454.08" font-size="8.6" fill="#1a1a1a" stroke="#1a1a1a" stroke-width="0.1" text-anchor="end" textLength="4.4" lengthAdjust="spacingAndGlyphs" >0</text>
<line x1="296.80" y1="428.76" x2="300.50" y2="428.76" stroke="#161616" stroke-width="1.0" />
<text x="293.70" y="431.54" font-size="8.6" fill="#1a1a1a" stroke="#1a1a1a" stroke-width="0.1" text-anchor="end" textLength="4.4" lengthAdjust="spacingAndGlyphs" >2</text>
<line x1="296.80" y1="406.22" x2="300.50" y2="406.22" stroke="#161616" stroke-width="1.0" />
<text x="293.70" y="409.00" font-size="8.6" fill="#1a1a1a" stroke="#1a1a1a" stroke-width="0.1" text-anchor="end" textLength="4.4" lengthAdjust="spacingAndGlyphs" >4</text>
<line x1="296.80" y1="383.68" x2="300.50" y2="383.68" stroke="#161616" stroke-width="1.0" />
<text x="293.70" y="386.46" font-size="8.6" fill="#1a1a1a" stroke="#1a1a1a" stroke-width="0.1" text-anchor="end" textLength="4.4" lengthAdjust="spacingAndGlyphs" >6</text>
<line x1="296.80" y1="361.14" x2="300.50" y2="361.14" stroke="#161616" stroke-width="1.0" />
<text x="293.70" y="363.92" font-size="8.6" fill="#1a1a1a" stroke="#1a1a1a" stroke-width="0.1" text-anchor="end" textLength="4.4" lengthAdjust="spacingAndGlyphs" >8</text>
<line x1="299.90" y1="451.50" x2="389.60" y2="451.50" stroke="#161616" stroke-width="1.2" />
<line x1="313.50" y1="451.40" x2="313.50" y2="454.60" stroke="#161616" stroke-width="1.0" />
<text x="313.50" y="465.08" font-size="8.6" fill="#1a1a1a" stroke="#1a1a1a" stroke-width="0.1" text-anchor="middle" textLength="4.4" lengthAdjust="spacingAndGlyphs" >0</text>
<line x1="334.70" y1="451.40" x2="334.70" y2="454.60" stroke="#161616" stroke-width="1.0" />
<text x="334.70" y="465.08" font-size="8.6" fill="#1a1a1a" stroke="#1a1a1a" stroke-width="0.1" text-anchor="middle" textLength="8.8" lengthAdjust="spacingAndGlyphs" >30</text>
<line x1="355.70" y1="451.40" x2="355.70" y2="454.60" stroke="#161616" stroke-width="1.0" />
<text x="355.70" y="465.08" font-size="8.6" fill="#1a1a1a" stroke="#1a1a1a" stroke-width="0.1" text-anchor="middle" textLength="8.8" lengthAdjust="spacingAndGlyphs" >60</text>
<line x1="376.50" y1="451.40" x2="376.50" y2="454.60" stroke="#161616" stroke-width="1.0" />
<text x="376.50" y="465.08" font-size="8.6" fill="#1a1a1a" stroke="#1a1a1a" stroke-width="0.1" text-anchor="middle" textLength="8.8" lengthAdjust="spacingAndGlyphs" >90</text>
<text x="284.00" y="405.00" font-size="8.61" fill="#1a1a1a" stroke="#1a1a1a" stroke-width="0.1" text-anchor="middle" textLength="51.7" lengthAdjust="spacingAndGlyphs" transform="rotate(-90 284.00 405.00)" style="stroke-width:0.22">CD38 MFI (×10<tspan dy="-3" font-size="6.3">3</tspan><tspan dy="3">)</tspan></text>
<text x="345.00" y="478.80" font-size="11.008" fill="#1a1a1a" stroke="#1a1a1a" stroke-width="0.1" text-anchor="middle" textLength="38.5" lengthAdjust="spacingAndGlyphs" style="stroke-width:0.22">PTC299 (nM)</text>
<line x1="313.50" y1="432.70" x2="313.50" y2="436.09" stroke="#e3930f" stroke-width="1.2" />
<line x1="311.00" y1="432.70" x2="316.00" y2="432.70" stroke="#e3930f" stroke-width="1.2" />
<line x1="311.00" y1="436.09" x2="316.00" y2="436.09" stroke="#e3930f" stroke-width="1.2" />
<line x1="307.50" y1="434.39" x2="319.50" y2="434.39" stroke="#e3930f" stroke-width="1.3" />
<circle cx="311.00" cy="432.14" r="2.00" fill="#e3930f"/>
<circle cx="314.00" cy="434.96" r="2.00" fill="#e3930f"/>
<circle cx="316.50" cy="435.52" r="2.00" fill="#e3930f"/>
<line x1="334.70" y1="414.11" x2="334.70" y2="420.87" stroke="#4c2670" stroke-width="1.2" />
<line x1="331.40" y1="414.11" x2="338.00" y2="414.11" stroke="#4c2670" stroke-width="1.2" />
<line x1="331.40" y1="420.87" x2="338.00" y2="420.87" stroke="#4c2670" stroke-width="1.2" />
<line x1="327.70" y1="417.49" x2="341.70" y2="417.49" stroke="#4c2670" stroke-width="1.3" />
<rect x="332.90" y="411.18" width="3.60" height="3.60" fill="#4c2670" stroke="none" stroke-width="1" />
<rect x="330.90" y="417.94" width="3.60" height="3.60" fill="#4c2670" stroke="none" stroke-width="1" />
<rect x="334.90" y="416.82" width="3.60" height="3.60" fill="#4c2670" stroke="none" stroke-width="1" />
<line x1="355.70" y1="402.28" x2="355.70" y2="419.18" stroke="#e2a08e" stroke-width="1.2" />
<line x1="352.40" y1="402.28" x2="359.00" y2="402.28" stroke="#e2a08e" stroke-width="1.2" />
<line x1="352.40" y1="419.18" x2="359.00" y2="419.18" stroke="#e2a08e" stroke-width="1.2" />
<line x1="348.70" y1="410.73" x2="362.70" y2="410.73" stroke="#e2a08e" stroke-width="1.3" />
<path d="M353.60,403.36 L357.80,403.36 L355.70,399.40 Z" stroke="none" stroke-width="1" fill="#e2a08e" />
<path d="M355.10,416.89 L359.30,416.89 L357.20,412.93 Z" stroke="none" stroke-width="1" fill="#e2a08e" />
<path d="M353.60,420.27 L357.80,420.27 L355.70,416.31 Z" stroke="none" stroke-width="1" fill="#e2a08e" />
<line x1="376.50" y1="366.78" x2="376.50" y2="400.59" stroke="#b9234b" stroke-width="1.2" />
<line x1="373.20" y1="366.78" x2="379.80" y2="366.78" stroke="#b9234b" stroke-width="1.2" />
<line x1="373.20" y1="400.59" x2="379.80" y2="400.59" stroke="#b9234b" stroke-width="1.2" />
<line x1="369.50" y1="383.68" x2="383.50" y2="383.68" stroke="#b9234b" stroke-width="1.3" />
<path d="M374.40,364.00 L378.60,364.00 L376.50,367.96 Z" stroke="none" stroke-width="1" fill="#b9234b" />
<path d="M374.40,382.03 L378.60,382.03 L376.50,385.99 Z" stroke="none" stroke-width="1" fill="#b9234b" />
<path d="M374.40,398.94 L378.60,398.94 L376.50,402.90 Z" stroke="none" stroke-width="1" fill="#b9234b" />
<path d="M313.50,361.50 L313.50,359.90 L376.20,359.90 L376.20,361.50" stroke="#b9234b" stroke-width="1.1" fill="none" />
<circle cx="342.15" cy="358.30" r="1.00" fill="#b9234b"/>
<circle cx="344.85" cy="358.30" r="1.00" fill="#b9234b"/>
<circle cx="347.55" cy="358.30" r="1.00" fill="#b9234b"/>
<path d="M313.50,365.50 L313.50,363.90 L355.40,363.90 L355.40,365.50" stroke="#e2a08e" stroke-width="1.1" fill="none" />
<circle cx="331.75" cy="362.30" r="1.00" fill="#e2a08e"/>
<circle cx="334.45" cy="362.30" r="1.00" fill="#e2a08e"/>
<circle cx="337.15" cy="362.30" r="1.00" fill="#e2a08e"/>
<path d="M313.50,369.30 L313.50,367.70 L335.10,367.70 L335.10,369.30" stroke="#4c2670" stroke-width="1.1" fill="none" />
<circle cx="324.30" cy="366.10" r="1.00" fill="#4c2670"/>
<text x="461.85" y="353.60" font-size="10.2" fill="#1a1a1a" stroke="#1a1a1a" stroke-width="0.1" text-anchor="middle" textLength="27.5" lengthAdjust="spacingAndGlyphs" style="stroke-width:0.2">SKM-1</text>
<line x1="417.50" y1="358.70" x2="417.50" y2="451.90" stroke="#161616" stroke-width="1.2" stroke-linecap="round"/>
<line x1="414.10" y1="451.30" x2="417.50" y2="451.30" stroke="#161616" stroke-width="1.0" />
<text x="411.00" y="454.08" font-size="8.6" fill="#1a1a1a" stroke="#1a1a1a" stroke-width="0.1" text-anchor="end" textLength="4.4" lengthAdjust="spacingAndGlyphs" >0</text>
<line x1="414.10" y1="428.70" x2="417.50" y2="428.70" stroke="#161616" stroke-width="1.0" />
<text x="411.00" y="431.48" font-size="8.6" fill="#1a1a1a" stroke="#1a1a1a" stroke-width="0.1" text-anchor="end" textLength="4.4" lengthAdjust="spacingAndGlyphs" >1</text>
<line x1="414.10" y1="406.10" x2="417.50" y2="406.10" stroke="#161616" stroke-width="1.0" />
<text x="411.00" y="408.88" font-size="8.6" fill="#1a1a1a" stroke="#1a1a1a" stroke-width="0.1" text-anchor="end" textLength="4.4" lengthAdjust="spacingAndGlyphs" >2</text>
<line x1="414.10" y1="383.50" x2="417.50" y2="383.50" stroke="#161616" stroke-width="1.0" />
<text x="411.00" y="386.28" font-size="8.6" fill="#1a1a1a" stroke="#1a1a1a" stroke-width="0.1" text-anchor="end" textLength="4.4" lengthAdjust="spacingAndGlyphs" >3</text>
<line x1="414.10" y1="360.90" x2="417.50" y2="360.90" stroke="#161616" stroke-width="1.0" />
<text x="411.00" y="363.68" font-size="8.6" fill="#1a1a1a" stroke="#1a1a1a" stroke-width="0.1" text-anchor="end" textLength="4.4" lengthAdjust="spacingAndGlyphs" >4</text>
<line x1="416.90" y1="451.50" x2="506.50" y2="451.50" stroke="#161616" stroke-width="1.2" />
<line x1="431.10" y1="451.30" x2="431.10" y2="454.50" stroke="#161616" stroke-width="1.0" />
<text x="431.10" y="464.98" font-size="8.6" fill="#1a1a1a" stroke="#1a1a1a" stroke-width="0.1" text-anchor="middle" textLength="4.4" lengthAdjust="spacingAndGlyphs" >0</text>
<line x1="451.80" y1="451.30" x2="451.80" y2="454.50" stroke="#161616" stroke-width="1.0" />
<text x="451.80" y="464.98" font-size="8.6" fill="#1a1a1a" stroke="#1a1a1a" stroke-width="0.1" text-anchor="middle" textLength="8.8" lengthAdjust="spacingAndGlyphs" >30</text>
<line x1="472.60" y1="451.30" x2="472.60" y2="454.50" stroke="#161616" stroke-width="1.0" />
<text x="472.60" y="464.98" font-size="8.6" fill="#1a1a1a" stroke="#1a1a1a" stroke-width="0.1" text-anchor="middle" textLength="8.8" lengthAdjust="spacingAndGlyphs" >60</text>
<line x1="493.40" y1="451.30" x2="493.40" y2="454.50" stroke="#161616" stroke-width="1.0" />
<text x="493.40" y="464.98" font-size="8.6" fill="#1a1a1a" stroke="#1a1a1a" stroke-width="0.1" text-anchor="middle" textLength="8.8" lengthAdjust="spacingAndGlyphs" >90</text>
<text x="462.20" y="478.80" font-size="11.008" fill="#1a1a1a" stroke="#1a1a1a" stroke-width="0.1" text-anchor="middle" textLength="39" lengthAdjust="spacingAndGlyphs" style="stroke-width:0.22">PTC299 (nM)</text>
<line x1="431.10" y1="412.88" x2="431.10" y2="413.33" stroke="#e3930f" stroke-width="1.2" />
<line x1="429.10" y1="412.88" x2="433.10" y2="412.88" stroke="#e3930f" stroke-width="1.2" />
<line x1="429.10" y1="413.33" x2="433.10" y2="413.33" stroke="#e3930f" stroke-width="1.2" />
<line x1="426.10" y1="413.11" x2="436.10" y2="413.11" stroke="#e3930f" stroke-width="1.3" />
<circle cx="428.10" cy="412.88" r="2.00" fill="#e3930f"/>
<circle cx="431.10" cy="413.33" r="2.00" fill="#e3930f"/>
<circle cx="434.10" cy="412.88" r="2.00" fill="#e3930f"/>
<line x1="451.80" y1="402.03" x2="451.80" y2="405.65" stroke="#4c2670" stroke-width="1.2" />
<line x1="448.50" y1="402.03" x2="455.10" y2="402.03" stroke="#4c2670" stroke-width="1.2" />
<line x1="448.50" y1="405.65" x2="455.10" y2="405.65" stroke="#4c2670" stroke-width="1.2" />
<line x1="444.80" y1="403.84" x2="458.80" y2="403.84" stroke="#4c2670" stroke-width="1.3" />
<rect x="448.00" y="399.78" width="3.60" height="3.60" fill="#4c2670" stroke="none" stroke-width="1" />
<rect x="452.00" y="402.04" width="3.60" height="3.60" fill="#4c2670" stroke="none" stroke-width="1" />
<rect x="450.00" y="404.30" width="3.60" height="3.60" fill="#4c2670" stroke="none" stroke-width="1" />
<line x1="472.60" y1="370.62" x2="472.60" y2="398.64" stroke="#e2a08e" stroke-width="1.2" />
<line x1="469.30" y1="370.62" x2="475.90" y2="370.62" stroke="#e2a08e" stroke-width="1.2" />
<line x1="469.30" y1="398.64" x2="475.90" y2="398.64" stroke="#e2a08e" stroke-width="1.2" />
<line x1="465.60" y1="384.63" x2="479.60" y2="384.63" stroke="#e2a08e" stroke-width="1.3" />
<path d="M470.50,370.46 L474.70,370.46 L472.60,366.50 Z" stroke="none" stroke-width="1" fill="#e2a08e" />
<path d="M470.50,390.80 L474.70,390.80 L472.60,386.84 Z" stroke="none" stroke-width="1" fill="#e2a08e" />
<path d="M470.50,398.71 L474.70,398.71 L472.60,394.75 Z" stroke="none" stroke-width="1" fill="#e2a08e" />
<line x1="493.40" y1="371.75" x2="493.40" y2="392.99" stroke="#b9234b" stroke-width="1.2" />
<line x1="490.10" y1="371.75" x2="496.70" y2="371.75" stroke="#b9234b" stroke-width="1.2" />
<line x1="490.10" y1="392.99" x2="496.70" y2="392.99" stroke="#b9234b" stroke-width="1.2" />
<line x1="486.40" y1="382.37" x2="500.40" y2="382.37" stroke="#b9234b" stroke-width="1.3" />
<path d="M491.30,368.29 L495.50,368.29 L493.40,372.25 Z" stroke="none" stroke-width="1" fill="#b9234b" />
<path d="M494.30,385.24 L498.50,385.24 L496.40,389.20 Z" stroke="none" stroke-width="1" fill="#b9234b" />
<path d="M489.30,387.50 L493.50,387.50 L491.40,391.46 Z" stroke="none" stroke-width="1" fill="#b9234b" />
<path d="M430.80,361.80 L430.80,360.20 L493.40,360.20 L493.40,361.80" stroke="#b9234b" stroke-width="1.1" fill="none" />
<circle cx="459.40" cy="358.60" r="1.00" fill="#b9234b"/>
<circle cx="462.10" cy="358.60" r="1.00" fill="#b9234b"/>
<circle cx="464.80" cy="358.60" r="1.00" fill="#b9234b"/>
<path d="M430.80,365.80 L430.80,364.20 L451.90,364.20 L451.90,365.80" stroke="#4c2670" stroke-width="1.1" fill="none" />
<circle cx="441.35" cy="362.60" r="1.00" fill="#4c2670"/>
<text x="84.30" y="508.60" font-size="10.2" fill="#1a1a1a" stroke="#1a1a1a" stroke-width="0.1" text-anchor="middle" textLength="29.3" lengthAdjust="spacingAndGlyphs" style="stroke-width:0.2">MDS·L</text>
<line x1="39.50" y1="513.00" x2="39.50" y2="606.90" stroke="#161616" stroke-width="1.2" stroke-linecap="round"/>
<line x1="35.80" y1="606.30" x2="39.50" y2="606.30" stroke="#161616" stroke-width="1.0" />
<text x="32.70" y="609.08" font-size="8.6" fill="#1a1a1a" stroke="#1a1a1a" stroke-width="0.1" text-anchor="end" textLength="4.4" lengthAdjust="spacingAndGlyphs" >0</text>
<line x1="35.80" y1="576.25" x2="39.50" y2="576.25" stroke="#161616" stroke-width="1.0" />
<text x="32.70" y="579.03" font-size="8.6" fill="#1a1a1a" stroke="#1a1a1a" stroke-width="0.1" text-anchor="end" textLength="4.4" lengthAdjust="spacingAndGlyphs" >1</text>
<line x1="35.80" y1="546.20" x2="39.50" y2="546.20" stroke="#161616" stroke-width="1.0" />
<text x="32.70" y="548.98" font-size="8.6" fill="#1a1a1a" stroke="#1a1a1a" stroke-width="0.1" text-anchor="end" textLength="4.4" lengthAdjust="spacingAndGlyphs" >2</text>
<line x1="35.80" y1="516.15" x2="39.50" y2="516.15" stroke="#161616" stroke-width="1.0" />
<text x="32.70" y="518.93" font-size="8.6" fill="#1a1a1a" stroke="#1a1a1a" stroke-width="0.1" text-anchor="end" textLength="4.4" lengthAdjust="spacingAndGlyphs" >3</text>
<line x1="38.90" y1="606.50" x2="128.90" y2="606.50" stroke="#161616" stroke-width="1.2" />
<line x1="38.90" y1="606.30" x2="38.90" y2="609.50" stroke="#161616" stroke-width="1.0" />
<text x="38.90" y="619.98" font-size="8.6" fill="#1a1a1a" stroke="#1a1a1a" stroke-width="0.1" text-anchor="middle" textLength="4.4" lengthAdjust="spacingAndGlyphs" >0</text>
<line x1="64.80" y1="606.30" x2="64.80" y2="609.50" stroke="#161616" stroke-width="1.0" />
<text x="64.80" y="619.98" font-size="8.6" fill="#1a1a1a" stroke="#1a1a1a" stroke-width="0.1" text-anchor="middle" textLength="4.4" lengthAdjust="spacingAndGlyphs" >2</text>
<line x1="90.70" y1="606.30" x2="90.70" y2="609.50" stroke="#161616" stroke-width="1.0" />
<text x="90.70" y="619.98" font-size="8.6" fill="#1a1a1a" stroke="#1a1a1a" stroke-width="0.1" text-anchor="middle" textLength="4.4" lengthAdjust="spacingAndGlyphs" >4</text>
<line x1="116.60" y1="606.30" x2="116.60" y2="609.50" stroke="#161616" stroke-width="1.0" />
<text x="116.60" y="619.98" font-size="8.6" fill="#1a1a1a" stroke="#1a1a1a" stroke-width="0.1" text-anchor="middle" textLength="4.4" lengthAdjust="spacingAndGlyphs" >6</text>
<text x="23.10" y="560.00" font-size="8.61" fill="#1a1a1a" stroke="#1a1a1a" stroke-width="0.1" text-anchor="middle" textLength="56.7" lengthAdjust="spacingAndGlyphs" transform="rotate(-90 23.10 560.00)" style="stroke-width:0.22">Cell number (×10<tspan dy="-3" font-size="6.3">5</tspan><tspan dy="3">)</tspan></text>
<text x="84.00" y="633.50" font-size="11.008" fill="#1a1a1a" stroke="#1a1a1a" stroke-width="0.1" text-anchor="middle" textLength="10.4" lengthAdjust="spacingAndGlyphs" style="stroke-width:0.22">Day</text>
<path d="M38.90,603.29 L64.80,595.78 L116.60,581.66" stroke="#e0258e" stroke-width="1.25" fill="none" stroke-linejoin="round"/>
<path d="M36.38,605.27 L41.42,605.27 L38.90,600.52 Z" stroke="none" stroke-width="1" fill="#e0258e" />
<path d="M62.28,597.76 L67.32,597.76 L64.80,593.01 Z" stroke="none" stroke-width="1" fill="#e0258e" />
<path d="M114.08,583.64 L119.12,583.64 L116.60,578.89 Z" stroke="none" stroke-width="1" fill="#e0258e" />
<path d="M38.90,603.29 L64.80,596.38 L116.60,569.04" stroke="#5a2c72" stroke-width="1.25" fill="none" stroke-linejoin="round"/>
<line x1="64.80" y1="594.88" x2="64.80" y2="597.89" stroke="#5a2c72" stroke-width="0.8" />
<line x1="63.20" y1="594.88" x2="66.40" y2="594.88" stroke="#5a2c72" stroke-width="0.8" />
<line x1="63.20" y1="597.89" x2="66.40" y2="597.89" stroke="#5a2c72" stroke-width="0.8" />
<line x1="116.60" y1="565.43" x2="116.60" y2="572.64" stroke="#5a2c72" stroke-width="0.8" />
<line x1="115.00" y1="565.43" x2="118.20" y2="565.43" stroke="#5a2c72" stroke-width="0.8" />
<line x1="115.00" y1="572.64" x2="118.20" y2="572.64" stroke="#5a2c72" stroke-width="0.8" />
<rect x="36.74" y="601.13" width="4.32" height="4.32" fill="#5a2c72" stroke="none" stroke-width="1" />
<rect x="62.64" y="594.22" width="4.32" height="4.32" fill="#5a2c72" stroke="none" stroke-width="1" />
<rect x="114.44" y="566.88" width="4.32" height="4.32" fill="#5a2c72" stroke="none" stroke-width="1" />
<path d="M38.90,603.29 L64.80,597.28 L116.60,531.17" stroke="#e3930f" stroke-width="1.25" fill="none" stroke-linejoin="round"/>
<line x1="116.60" y1="524.56" x2="116.60" y2="537.79" stroke="#e3930f" stroke-width="0.8" />
<line x1="115.00" y1="524.56" x2="118.20" y2="524.56" stroke="#e3930f" stroke-width="0.8" />
<line x1="115.00" y1="537.79" x2="118.20" y2="537.79" stroke="#e3930f" stroke-width="0.8" />
<circle cx="38.90" cy="603.29" r="2.40" fill="#e3930f"/>
<circle cx="64.80" cy="597.28" r="2.40" fill="#e3930f"/>
<circle cx="116.60" cy="531.17" r="2.40" fill="#e3930f"/>
<path d="M38.90,603.29 L64.80,595.48 L116.60,530.27" stroke="#2d4e8e" stroke-width="1.25" fill="none" stroke-linejoin="round"/>
<line x1="64.80" y1="593.98" x2="64.80" y2="596.98" stroke="#2d4e8e" stroke-width="0.8" />
<line x1="63.20" y1="593.98" x2="66.40" y2="593.98" stroke="#2d4e8e" stroke-width="0.8" />
<line x1="63.20" y1="596.98" x2="66.40" y2="596.98" stroke="#2d4e8e" stroke-width="0.8" />
<path d="M36.38,601.31 L41.42,601.31 L38.90,606.07 Z" stroke="none" stroke-width="1" fill="#2d4e8e" />
<path d="M62.28,593.50 L67.32,593.50 L64.80,598.25 Z" stroke="none" stroke-width="1" fill="#2d4e8e" />
<path d="M114.08,528.29 L119.12,528.29 L116.60,533.05 Z" stroke="none" stroke-width="1" fill="#2d4e8e" />
<line x1="42.40" y1="526.60" x2="49.80" y2="526.60" stroke="#e3930f" stroke-width="1.1" />
<circle cx="46.10" cy="526.60" r="2.00" fill="#e3930f"/>
<text x="52.00" y="529.44" font-size="7.9" fill="#1a1a1a" stroke="#1a1a1a" stroke-width="0.1" textLength="33.89" lengthAdjust="spacingAndGlyphs" >PTC299 (0)</text>
<line x1="42.40" y1="536.70" x2="49.80" y2="536.70" stroke="#5a2c72" stroke-width="1.1" />
<rect x="44.30" y="534.90" width="3.60" height="3.60" fill="#5a2c72" stroke="none" stroke-width="1" />
<text x="52.00" y="539.54" font-size="7.9" fill="#1a1a1a" stroke="#1a1a1a" stroke-width="0.1" textLength="37.54" lengthAdjust="spacingAndGlyphs" >PTC299 (30)</text>
<line x1="42.40" y1="546.80" x2="49.80" y2="546.80" stroke="#e0258e" stroke-width="1.1" />
<path d="M44.00,548.45 L48.20,548.45 L46.10,544.49 Z" stroke="none" stroke-width="1" fill="#e0258e" />
<text x="52.00" y="549.64" font-size="7.9" fill="#1a1a1a" stroke="#1a1a1a" stroke-width="0.1" textLength="41.18" lengthAdjust="spacingAndGlyphs" >PTC299 (300)</text>
<line x1="42.40" y1="559.60" x2="49.80" y2="559.60" stroke="#2d4e8e" stroke-width="1.1" />
<path d="M44.00,557.95 L48.20,557.95 L46.10,561.91 Z" stroke="none" stroke-width="1" fill="#2d4e8e" />
<text x="52.00" y="559.94" font-size="7.9" fill="#1a1a1a" stroke="#1a1a1a" stroke-width="0.1" textLength="41.18" lengthAdjust="spacingAndGlyphs" >PTC299 (300)</text>
<text x="52.60" y="567.44" font-size="7.9" fill="#1a1a1a" stroke="#1a1a1a" stroke-width="0.1" textLength="24.6" lengthAdjust="spacingAndGlyphs" >+Uridine</text>
<path d="M120.70,530.40 L122.50,530.40 L122.50,569.30 L120.70,569.30" stroke="#5a2c72" stroke-width="1.1" fill="none" />
<circle cx="124.40" cy="543.50" r="1.00" fill="#5a2c72"/>
<path d="M124.00,530.40 L125.80,530.40 L125.80,581.50 L124.00,581.50" stroke="#e0258e" stroke-width="1.1" fill="none" />
<circle cx="128.00" cy="545.20" r="1.00" fill="#e0258e"/>
<circle cx="128.00" cy="547.90" r="1.00" fill="#e0258e"/>
<circle cx="128.00" cy="550.60" r="1.00" fill="#e0258e"/>
<path d="M128.6,528.6 Q130.6,528.6 130.2,530.8 Q130.6,533.0 128.6,533.0" stroke="#2d4e8e" stroke-width="0.9" fill="none" />
<text x="131.70" y="533.20" font-size="7.4" fill="#2d4e8e" stroke="#2d4e8e" stroke-width="0.1" >ns</text>
<text x="201.70" y="511.20" font-size="10.2" fill="#1a1a1a" stroke="#1a1a1a" stroke-width="0.1" text-anchor="middle" textLength="28.5" lengthAdjust="spacingAndGlyphs" style="stroke-width:0.2">SKM-1</text>
<line x1="157.50" y1="516.10" x2="157.50" y2="606.90" stroke="#161616" stroke-width="1.2" stroke-linecap="round"/>
<line x1="153.80" y1="606.30" x2="157.50" y2="606.30" stroke="#161616" stroke-width="1.0" />
<text x="150.70" y="609.08" font-size="8.6" fill="#1a1a1a" stroke="#1a1a1a" stroke-width="0.1" text-anchor="end" textLength="4.4" lengthAdjust="spacingAndGlyphs" >0</text>
<line x1="153.80" y1="578.70" x2="157.50" y2="578.70" stroke="#161616" stroke-width="1.0" />
<text x="150.70" y="581.48" font-size="8.6" fill="#1a1a1a" stroke="#1a1a1a" stroke-width="0.1" text-anchor="end" textLength="4.4" lengthAdjust="spacingAndGlyphs" >2</text>
<line x1="153.80" y1="551.10" x2="157.50" y2="551.10" stroke="#161616" stroke-width="1.0" />
<text x="150.70" y="553.88" font-size="8.6" fill="#1a1a1a" stroke="#1a1a1a" stroke-width="0.1" text-anchor="end" textLength="4.4" lengthAdjust="spacingAndGlyphs" >4</text>
<line x1="153.80" y1="523.50" x2="157.50" y2="523.50" stroke="#161616" stroke-width="1.0" />
<text x="150.70" y="526.28" font-size="8.6" fill="#1a1a1a" stroke="#1a1a1a" stroke-width="0.1" text-anchor="end" textLength="4.4" lengthAdjust="spacingAndGlyphs" >6</text>
<line x1="156.90" y1="606.50" x2="247.30" y2="606.50" stroke="#161616" stroke-width="1.2" />
<line x1="156.70" y1="606.30" x2="156.70" y2="609.50" stroke="#161616" stroke-width="1.0" />
<text x="156.70" y="619.98" font-size="8.6" fill="#1a1a1a" stroke="#1a1a1a" stroke-width="0.1" text-anchor="middle" textLength="4.4" lengthAdjust="spacingAndGlyphs" >0</text>
<line x1="182.66" y1="606.30" x2="182.66" y2="609.50" stroke="#161616" stroke-width="1.0" />
<text x="182.66" y="619.98" font-size="8.6" fill="#1a1a1a" stroke="#1a1a1a" stroke-width="0.1" text-anchor="middle" textLength="4.4" lengthAdjust="spacingAndGlyphs" >2</text>
<line x1="208.62" y1="606.30" x2="208.62" y2="609.50" stroke="#161616" stroke-width="1.0" />
<text x="208.62" y="619.98" font-size="8.6" fill="#1a1a1a" stroke="#1a1a1a" stroke-width="0.1" text-anchor="middle" textLength="4.4" lengthAdjust="spacingAndGlyphs" >4</text>
<line x1="234.58" y1="606.30" x2="234.58" y2="609.50" stroke="#161616" stroke-width="1.0" />
<text x="234.58" y="619.98" font-size="8.6" fill="#1a1a1a" stroke="#1a1a1a" stroke-width="0.1" text-anchor="middle" textLength="4.4" lengthAdjust="spacingAndGlyphs" >6</text>
<text x="202.30" y="633.80" font-size="11.008" fill="#1a1a1a" stroke="#1a1a1a" stroke-width="0.1" text-anchor="middle" textLength="11.5" lengthAdjust="spacingAndGlyphs" style="stroke-width:0.22">Day</text>
<path d="M156.70,605.61 L182.66,602.85 L234.58,587.67" stroke="#e0258e" stroke-width="1.25" fill="none" stroke-linejoin="round"/>
<line x1="234.58" y1="584.22" x2="234.58" y2="591.12" stroke="#e0258e" stroke-width="0.8" />
<line x1="232.98" y1="584.22" x2="236.18" y2="584.22" stroke="#e0258e" stroke-width="0.8" />
<line x1="232.98" y1="591.12" x2="236.18" y2="591.12" stroke="#e0258e" stroke-width="0.8" />
<path d="M154.18,607.59 L159.22,607.59 L156.70,602.84 Z" stroke="none" stroke-width="1" fill="#e0258e" />
<path d="M180.14,604.83 L185.18,604.83 L182.66,600.08 Z" stroke="none" stroke-width="1" fill="#e0258e" />
<path d="M232.06,589.65 L237.10,589.65 L234.58,584.90 Z" stroke="none" stroke-width="1" fill="#e0258e" />
<path d="M156.70,605.61 L182.66,602.85 L234.58,559.79" stroke="#5a2c72" stroke-width="1.25" fill="none" stroke-linejoin="round"/>
<line x1="234.58" y1="555.93" x2="234.58" y2="563.66" stroke="#5a2c72" stroke-width="0.8" />
<line x1="232.98" y1="555.93" x2="236.18" y2="555.93" stroke="#5a2c72" stroke-width="0.8" />
<line x1="232.98" y1="563.66" x2="236.18" y2="563.66" stroke="#5a2c72" stroke-width="0.8" />
<rect x="154.54" y="603.45" width="4.32" height="4.32" fill="#5a2c72" stroke="none" stroke-width="1" />
<rect x="180.50" y="600.69" width="4.32" height="4.32" fill="#5a2c72" stroke="none" stroke-width="1" />
<rect x="232.42" y="557.63" width="4.32" height="4.32" fill="#5a2c72" stroke="none" stroke-width="1" />
<path d="M156.70,605.61 L182.66,602.85 L234.58,539.23" stroke="#e3930f" stroke-width="1.25" fill="none" stroke-linejoin="round"/>
<line x1="234.58" y1="535.09" x2="234.58" y2="543.37" stroke="#e3930f" stroke-width="0.8" />
<line x1="232.98" y1="535.09" x2="236.18" y2="535.09" stroke="#e3930f" stroke-width="0.8" />
<line x1="232.98" y1="543.37" x2="236.18" y2="543.37" stroke="#e3930f" stroke-width="0.8" />
<circle cx="156.70" cy="605.61" r="2.40" fill="#e3930f"/>
<circle cx="182.66" cy="602.85" r="2.40" fill="#e3930f"/>
<circle cx="234.58" cy="539.23" r="2.40" fill="#e3930f"/>
<path d="M156.70,605.61 L182.66,602.85 L234.58,521.43" stroke="#2d4e8e" stroke-width="1.25" fill="none" stroke-linejoin="round"/>
<line x1="182.66" y1="602.16" x2="182.66" y2="603.54" stroke="#2d4e8e" stroke-width="0.8" />
<line x1="181.06" y1="602.16" x2="184.26" y2="602.16" stroke="#2d4e8e" stroke-width="0.8" />
<line x1="181.06" y1="603.54" x2="184.26" y2="603.54" stroke="#2d4e8e" stroke-width="0.8" />
<line x1="234.58" y1="515.91" x2="234.58" y2="526.95" stroke="#2d4e8e" stroke-width="0.8" />
<line x1="232.98" y1="515.91" x2="236.18" y2="515.91" stroke="#2d4e8e" stroke-width="0.8" />
<line x1="232.98" y1="526.95" x2="236.18" y2="526.95" stroke="#2d4e8e" stroke-width="0.8" />
<path d="M154.18,603.63 L159.22,603.63 L156.70,608.38 Z" stroke="none" stroke-width="1" fill="#2d4e8e" />
<path d="M180.14,600.87 L185.18,600.87 L182.66,605.62 Z" stroke="none" stroke-width="1" fill="#2d4e8e" />
<path d="M232.06,519.45 L237.10,519.45 L234.58,524.20 Z" stroke="none" stroke-width="1" fill="#2d4e8e" />
<path d="M238.70,521.40 L240.50,521.40 L240.50,539.30 L238.70,539.30" stroke="#2d4e8e" stroke-width="1.1" fill="none" />
<circle cx="242.20" cy="529.55" r="1.00" fill="#2d4e8e"/>
<circle cx="242.20" cy="532.25" r="1.00" fill="#2d4e8e"/>
<path d="M238.70,539.30 L240.50,539.30 L240.50,559.80 L238.70,559.80" stroke="#5a2c72" stroke-width="1.1" fill="none" />
<circle cx="242.20" cy="548.15" r="1.00" fill="#2d4e8e"/>
<circle cx="242.20" cy="550.85" r="1.00" fill="#2d4e8e"/>
<path d="M242.40,538.90 L244.20,538.90 L244.20,587.30 L242.40,587.30" stroke="#e0258e" stroke-width="1.1" fill="none" />
<circle cx="245.90" cy="560.50" r="1.00" fill="#e0258e"/>
<circle cx="245.90" cy="563.20" r="1.00" fill="#e0258e"/>
<circle cx="245.90" cy="565.90" r="1.00" fill="#e0258e"/>
<text x="345.30" y="508.70" font-size="10.2" fill="#1a1a1a" stroke="#1a1a1a" stroke-width="0.1" text-anchor="middle" textLength="29.5" lengthAdjust="spacingAndGlyphs" style="stroke-width:0.2">MDS·L</text>
<line x1="299.50" y1="513.40" x2="299.50" y2="606.90" stroke="#161616" stroke-width="1.2" stroke-linecap="round"/>
<line x1="296.50" y1="606.30" x2="299.50" y2="606.30" stroke="#161616" stroke-width="1.0" />
<text x="293.40" y="609.08" font-size="8.6" fill="#1a1a1a" stroke="#1a1a1a" stroke-width="0.1" text-anchor="end" textLength="4.4" lengthAdjust="spacingAndGlyphs" >0</text>
<line x1="296.50" y1="576.30" x2="299.50" y2="576.30" stroke="#161616" stroke-width="1.0" />
<text x="293.40" y="579.08" font-size="8.6" fill="#1a1a1a" stroke="#1a1a1a" stroke-width="0.1" text-anchor="end" textLength="8.8" lengthAdjust="spacingAndGlyphs" >50</text>
<line x1="296.50" y1="546.30" x2="299.50" y2="546.30" stroke="#161616" stroke-width="1.0" />
<text x="293.40" y="549.08" font-size="8.6" fill="#1a1a1a" stroke="#1a1a1a" stroke-width="0.1" text-anchor="end" textLength="13.2" lengthAdjust="spacingAndGlyphs" >100</text>
<line x1="296.50" y1="516.30" x2="299.50" y2="516.30" stroke="#161616" stroke-width="1.0" />
<text x="293.40" y="519.08" font-size="8.6" fill="#1a1a1a" stroke="#1a1a1a" stroke-width="0.1" text-anchor="end" textLength="13.2" lengthAdjust="spacingAndGlyphs" >150</text>
<line x1="298.90" y1="606.50" x2="389.90" y2="606.50" stroke="#161616" stroke-width="1.2" />
<line x1="306.30" y1="606.30" x2="306.30" y2="609.50" stroke="#161616" stroke-width="1.0" />
<line x1="316.01" y1="606.30" x2="316.01" y2="609.50" stroke="#161616" stroke-width="1.0" />
<line x1="325.72" y1="606.30" x2="325.72" y2="609.50" stroke="#161616" stroke-width="1.0" />
<line x1="335.43" y1="606.30" x2="335.43" y2="609.50" stroke="#161616" stroke-width="1.0" />
<line x1="345.14" y1="606.30" x2="345.14" y2="609.50" stroke="#161616" stroke-width="1.0" />
<line x1="354.85" y1="606.30" x2="354.85" y2="609.50" stroke="#161616" stroke-width="1.0" />
<line x1="364.56" y1="606.30" x2="364.56" y2="609.50" stroke="#161616" stroke-width="1.0" />
<line x1="374.27" y1="606.30" x2="374.27" y2="609.50" stroke="#161616" stroke-width="1.0" />
<line x1="383.98" y1="606.30" x2="383.98" y2="609.50" stroke="#161616" stroke-width="1.0" />
<text x="309.30" y="616.60" font-size="8.4" fill="#1a1a1a" stroke="#1a1a1a" stroke-width="0.1" text-anchor="end" textLength="4.34" lengthAdjust="spacingAndGlyphs" transform="rotate(-45 309.30 616.60)" >0</text>
<text x="319.01" y="616.60" font-size="8.4" fill="#1a1a1a" stroke="#1a1a1a" stroke-width="0.1" text-anchor="end" textLength="4.34" lengthAdjust="spacingAndGlyphs" transform="rotate(-45 319.01 616.60)" >8</text>
<text x="328.72" y="616.60" font-size="8.4" fill="#1a1a1a" stroke="#1a1a1a" stroke-width="0.1" text-anchor="end" textLength="8.69" lengthAdjust="spacingAndGlyphs" transform="rotate(-45 328.72 616.60)" >16</text>
<text x="338.43" y="616.60" font-size="8.4" fill="#1a1a1a" stroke="#1a1a1a" stroke-width="0.1" text-anchor="end" textLength="8.69" lengthAdjust="spacingAndGlyphs" transform="rotate(-45 338.43 616.60)" >32</text>
<text x="348.14" y="616.60" font-size="8.4" fill="#1a1a1a" stroke="#1a1a1a" stroke-width="0.1" text-anchor="end" textLength="8.69" lengthAdjust="spacingAndGlyphs" transform="rotate(-45 348.14 616.60)" >64</text>
<text x="357.85" y="616.60" font-size="8.4" fill="#1a1a1a" stroke="#1a1a1a" stroke-width="0.1" text-anchor="end" textLength="13.03" lengthAdjust="spacingAndGlyphs" transform="rotate(-45 357.85 616.60)" >128</text>
<text x="367.56" y="616.60" font-size="8.4" fill="#1a1a1a" stroke="#1a1a1a" stroke-width="0.1" text-anchor="end" textLength="13.03" lengthAdjust="spacingAndGlyphs" transform="rotate(-45 367.56 616.60)" >256</text>
<text x="377.27" y="616.60" font-size="8.4" fill="#1a1a1a" stroke="#1a1a1a" stroke-width="0.1" text-anchor="end" textLength="13.03" lengthAdjust="spacingAndGlyphs" transform="rotate(-45 377.27 616.60)" >512</text>
<text x="386.98" y="616.60" font-size="8.4" fill="#1a1a1a" stroke="#1a1a1a" stroke-width="0.1" text-anchor="end" textLength="17.38" lengthAdjust="spacingAndGlyphs" transform="rotate(-45 386.98 616.60)" >1024</text>
<text x="345.30" y="642.50" font-size="11.008" fill="#1a1a1a" stroke="#1a1a1a" stroke-width="0.1" text-anchor="middle" textLength="39" lengthAdjust="spacingAndGlyphs" style="stroke-width:0.22">PTC299 (nM)</text>
<path d="M306.30,546.30 L316.01,546.90 L325.72,551.70 L335.43,560.10 L345.14,569.70 L354.85,573.90 L364.56,576.30 L374.27,578.10 L383.98,579.90" stroke="#e3930f" stroke-width="1.2" fill="none" stroke-linejoin="round"/>
<line x1="345.14" y1="567.90" x2="345.14" y2="571.50" stroke="#e3930f" stroke-width="0.8" />
<line x1="343.54" y1="567.90" x2="346.74" y2="567.90" stroke="#e3930f" stroke-width="0.8" />
<line x1="343.54" y1="571.50" x2="346.74" y2="571.50" stroke="#e3930f" stroke-width="0.8" />
<line x1="383.98" y1="578.10" x2="383.98" y2="581.70" stroke="#e3930f" stroke-width="0.8" />
<line x1="382.38" y1="578.10" x2="385.58" y2="578.10" stroke="#e3930f" stroke-width="0.8" />
<line x1="382.38" y1="581.70" x2="385.58" y2="581.70" stroke="#e3930f" stroke-width="0.8" />
<circle cx="306.30" cy="546.30" r="2.20" fill="#e3930f"/>
<circle cx="316.01" cy="546.90" r="2.20" fill="#e3930f"/>
<circle cx="325.72" cy="551.70" r="2.20" fill="#e3930f"/>
<circle cx="335.43" cy="560.10" r="2.20" fill="#e3930f"/>
<circle cx="345.14" cy="569.70" r="2.20" fill="#e3930f"/>
<circle cx="354.85" cy="573.90" r="2.20" fill="#e3930f"/>
<circle cx="364.56" cy="576.30" r="2.20" fill="#e3930f"/>
<circle cx="374.27" cy="578.10" r="2.20" fill="#e3930f"/>
<circle cx="383.98" cy="579.90" r="2.20" fill="#e3930f"/>
<path d="M306.30,546.30 L316.01,548.10 L325.72,547.50 L335.43,548.10 L345.14,549.30 L354.85,547.50 L364.56,544.50 L374.27,546.30 L383.98,548.10" stroke="#2b4a8c" stroke-width="1.2" fill="none" stroke-linejoin="round"/>
<rect x="304.23" y="544.23" width="4.14" height="4.14" fill="#2b4a8c" stroke="none" stroke-width="1" />
<rect x="313.94" y="546.03" width="4.14" height="4.14" fill="#2b4a8c" stroke="none" stroke-width="1" />
<rect x="323.65" y="545.43" width="4.14" height="4.14" fill="#2b4a8c" stroke="none" stroke-width="1" />
<rect x="333.36" y="546.03" width="4.14" height="4.14" fill="#2b4a8c" stroke="none" stroke-width="1" />
<rect x="343.07" y="547.23" width="4.14" height="4.14" fill="#2b4a8c" stroke="none" stroke-width="1" />
<rect x="352.78" y="545.43" width="4.14" height="4.14" fill="#2b4a8c" stroke="none" stroke-width="1" />
<rect x="362.49" y="542.43" width="4.14" height="4.14" fill="#2b4a8c" stroke="none" stroke-width="1" />
<rect x="372.20" y="544.23" width="4.14" height="4.14" fill="#2b4a8c" stroke="none" stroke-width="1" />
<rect x="381.91" y="546.03" width="4.14" height="4.14" fill="#2b4a8c" stroke="none" stroke-width="1" />
<path d="M387.40,547.30 L389.20,547.30 L389.20,579.60 L387.40,579.60" stroke="#2b4a8c" stroke-width="1.1" fill="none" />
<circle cx="392.00" cy="562.25" r="1.00" fill="#2b4a8c"/>
<circle cx="392.00" cy="564.95" r="1.00" fill="#2b4a8c"/>
<line x1="309.40" y1="582.30" x2="315.20" y2="582.30" stroke="#e3930f" stroke-width="1.1" />
<circle cx="312.30" cy="582.30" r="2.00" fill="#e3930f"/>
<text x="318.60" y="585.14" font-size="7.9" fill="#1a1a1a" stroke="#1a1a1a" stroke-width="0.1" textLength="24.6" lengthAdjust="spacingAndGlyphs" >−Uridine</text>
<line x1="309.40" y1="592.70" x2="315.20" y2="592.70" stroke="#2b4a8c" stroke-width="1.1" />
<rect x="310.50" y="590.90" width="3.60" height="3.60" fill="#2b4a8c" stroke="none" stroke-width="1" />
<text x="318.60" y="595.54" font-size="7.9" fill="#1a1a1a" stroke="#1a1a1a" stroke-width="0.1" textLength="24.6" lengthAdjust="spacingAndGlyphs" >+Uridine</text>
<text x="273.60" y="559.70" font-size="8.61" fill="#1a1a1a" stroke="#1a1a1a" stroke-width="0.1" text-anchor="middle" textLength="48.8" lengthAdjust="spacingAndGlyphs" transform="rotate(-90 273.60 559.70)" style="stroke-width:0.22">Cell viability (%)</text>
<text x="461.70" y="508.70" font-size="10.2" fill="#1a1a1a" stroke="#1a1a1a" stroke-width="0.1" text-anchor="middle" textLength="28.5" lengthAdjust="spacingAndGlyphs" style="stroke-width:0.2">SKM-1</text>
<line x1="417.50" y1="513.40" x2="417.50" y2="606.90" stroke="#161616" stroke-width="1.2" stroke-linecap="round"/>
<line x1="414.10" y1="606.30" x2="417.50" y2="606.30" stroke="#161616" stroke-width="1.0" />
<text x="411.00" y="609.08" font-size="8.6" fill="#1a1a1a" stroke="#1a1a1a" stroke-width="0.1" text-anchor="end" textLength="4.4" lengthAdjust="spacingAndGlyphs" >0</text>
<line x1="414.10" y1="576.30" x2="417.50" y2="576.30" stroke="#161616" stroke-width="1.0" />
<text x="411.00" y="579.08" font-size="8.6" fill="#1a1a1a" stroke="#1a1a1a" stroke-width="0.1" text-anchor="end" textLength="8.8" lengthAdjust="spacingAndGlyphs" >50</text>
<line x1="414.10" y1="546.30" x2="417.50" y2="546.30" stroke="#161616" stroke-width="1.0" />
<text x="411.00" y="549.08" font-size="8.6" fill="#1a1a1a" stroke="#1a1a1a" stroke-width="0.1" text-anchor="end" textLength="13.2" lengthAdjust="spacingAndGlyphs" >100</text>
<line x1="414.10" y1="516.30" x2="417.50" y2="516.30" stroke="#161616" stroke-width="1.0" />
<text x="411.00" y="519.08" font-size="8.6" fill="#1a1a1a" stroke="#1a1a1a" stroke-width="0.1" text-anchor="end" textLength="13.2" lengthAdjust="spacingAndGlyphs" >150</text>
<line x1="416.90" y1="606.50" x2="507.30" y2="606.50" stroke="#161616" stroke-width="1.2" />
<line x1="423.30" y1="606.30" x2="423.30" y2="609.50" stroke="#161616" stroke-width="1.0" />
<line x1="433.01" y1="606.30" x2="433.01" y2="609.50" stroke="#161616" stroke-width="1.0" />
<line x1="442.72" y1="606.30" x2="442.72" y2="609.50" stroke="#161616" stroke-width="1.0" />
<line x1="452.43" y1="606.30" x2="452.43" y2="609.50" stroke="#161616" stroke-width="1.0" />
<line x1="462.14" y1="606.30" x2="462.14" y2="609.50" stroke="#161616" stroke-width="1.0" />
<line x1="471.85" y1="606.30" x2="471.85" y2="609.50" stroke="#161616" stroke-width="1.0" />
<line x1="481.56" y1="606.30" x2="481.56" y2="609.50" stroke="#161616" stroke-width="1.0" />
<line x1="491.27" y1="606.30" x2="491.27" y2="609.50" stroke="#161616" stroke-width="1.0" />
<line x1="500.98" y1="606.30" x2="500.98" y2="609.50" stroke="#161616" stroke-width="1.0" />
<text x="426.30" y="616.60" font-size="8.4" fill="#1a1a1a" stroke="#1a1a1a" stroke-width="0.1" text-anchor="end" textLength="4.34" lengthAdjust="spacingAndGlyphs" transform="rotate(-45 426.30 616.60)" >0</text>
<text x="436.01" y="616.60" font-size="8.4" fill="#1a1a1a" stroke="#1a1a1a" stroke-width="0.1" text-anchor="end" textLength="4.34" lengthAdjust="spacingAndGlyphs" transform="rotate(-45 436.01 616.60)" >8</text>
<text x="445.72" y="616.60" font-size="8.4" fill="#1a1a1a" stroke="#1a1a1a" stroke-width="0.1" text-anchor="end" textLength="8.69" lengthAdjust="spacingAndGlyphs" transform="rotate(-45 445.72 616.60)" >16</text>
<text x="455.43" y="616.60" font-size="8.4" fill="#1a1a1a" stroke="#1a1a1a" stroke-width="0.1" text-anchor="end" textLength="8.69" lengthAdjust="spacingAndGlyphs" transform="rotate(-45 455.43 616.60)" >32</text>
<text x="465.14" y="616.60" font-size="8.4" fill="#1a1a1a" stroke="#1a1a1a" stroke-width="0.1" text-anchor="end" textLength="8.69" lengthAdjust="spacingAndGlyphs" transform="rotate(-45 465.14 616.60)" >64</text>
<text x="474.85" y="616.60" font-size="8.4" fill="#1a1a1a" stroke="#1a1a1a" stroke-width="0.1" text-anchor="end" textLength="13.03" lengthAdjust="spacingAndGlyphs" transform="rotate(-45 474.85 616.60)" >128</text>
<text x="484.56" y="616.60" font-size="8.4" fill="#1a1a1a" stroke="#1a1a1a" stroke-width="0.1" text-anchor="end" textLength="13.03" lengthAdjust="spacingAndGlyphs" transform="rotate(-45 484.56 616.60)" >256</text>
<text x="494.27" y="616.60" font-size="8.4" fill="#1a1a1a" stroke="#1a1a1a" stroke-width="0.1" text-anchor="end" textLength="13.03" lengthAdjust="spacingAndGlyphs" transform="rotate(-45 494.27 616.60)" >512</text>
<text x="503.98" y="616.60" font-size="8.4" fill="#1a1a1a" stroke="#1a1a1a" stroke-width="0.1" text-anchor="end" textLength="17.38" lengthAdjust="spacingAndGlyphs" transform="rotate(-45 503.98 616.60)" >1024</text>
<text x="461.70" y="642.50" font-size="11.008" fill="#1a1a1a" stroke="#1a1a1a" stroke-width="0.1" text-anchor="middle" textLength="39" lengthAdjust="spacingAndGlyphs" style="stroke-width:0.22">PTC299 (nM)</text>
<path d="M423.30,548.10 L433.01,542.10 L442.72,551.70 L452.43,570.90 L462.14,582.90 L471.85,589.50 L481.56,590.70 L491.27,591.90 L500.98,590.10" stroke="#e3930f" stroke-width="1.2" fill="none" stroke-linejoin="round"/>
<line x1="423.30" y1="545.70" x2="423.30" y2="550.50" stroke="#e3930f" stroke-width="0.8" />
<line x1="421.70" y1="545.70" x2="424.90" y2="545.70" stroke="#e3930f" stroke-width="0.8" />
<line x1="421.70" y1="550.50" x2="424.90" y2="550.50" stroke="#e3930f" stroke-width="0.8" />
<line x1="442.72" y1="549.30" x2="442.72" y2="554.10" stroke="#e3930f" stroke-width="0.8" />
<line x1="441.12" y1="549.30" x2="444.32" y2="549.30" stroke="#e3930f" stroke-width="0.8" />
<line x1="441.12" y1="554.10" x2="444.32" y2="554.10" stroke="#e3930f" stroke-width="0.8" />
<line x1="452.43" y1="567.90" x2="452.43" y2="573.90" stroke="#e3930f" stroke-width="0.8" />
<line x1="450.83" y1="567.90" x2="454.03" y2="567.90" stroke="#e3930f" stroke-width="0.8" />
<line x1="450.83" y1="573.90" x2="454.03" y2="573.90" stroke="#e3930f" stroke-width="0.8" />
<line x1="491.27" y1="590.10" x2="491.27" y2="593.70" stroke="#e3930f" stroke-width="0.8" />
<line x1="489.67" y1="590.10" x2="492.87" y2="590.10" stroke="#e3930f" stroke-width="0.8" />
<line x1="489.67" y1="593.70" x2="492.87" y2="593.70" stroke="#e3930f" stroke-width="0.8" />
<circle cx="423.30" cy="548.10" r="2.20" fill="#e3930f"/>
<circle cx="433.01" cy="542.10" r="2.20" fill="#e3930f"/>
<circle cx="442.72" cy="551.70" r="2.20" fill="#e3930f"/>
<circle cx="452.43" cy="570.90" r="2.20" fill="#e3930f"/>
<circle cx="462.14" cy="582.90" r="2.20" fill="#e3930f"/>
<circle cx="471.85" cy="589.50" r="2.20" fill="#e3930f"/>
<circle cx="481.56" cy="590.70" r="2.20" fill="#e3930f"/>
<circle cx="491.27" cy="591.90" r="2.20" fill="#e3930f"/>
<circle cx="500.98" cy="590.10" r="2.20" fill="#e3930f"/>
<path d="M423.30,544.50 L433.01,543.90 L442.72,542.70 L452.43,546.30 L462.14,544.50 L471.85,542.10 L481.56,545.70 L491.27,545.10 L500.98,548.70" stroke="#2b4a8c" stroke-width="1.2" fill="none" stroke-linejoin="round"/>
<line x1="423.30" y1="542.70" x2="423.30" y2="546.30" stroke="#2b4a8c" stroke-width="0.8" />
<line x1="421.70" y1="542.70" x2="424.90" y2="542.70" stroke="#2b4a8c" stroke-width="0.8" />
<line x1="421.70" y1="546.30" x2="424.90" y2="546.30" stroke="#2b4a8c" stroke-width="0.8" />
<line x1="462.14" y1="542.70" x2="462.14" y2="546.30" stroke="#2b4a8c" stroke-width="0.8" />
<line x1="460.54" y1="542.70" x2="463.74" y2="542.70" stroke="#2b4a8c" stroke-width="0.8" />
<line x1="460.54" y1="546.30" x2="463.74" y2="546.30" stroke="#2b4a8c" stroke-width="0.8" />
<line x1="471.85" y1="539.10" x2="471.85" y2="545.10" stroke="#2b4a8c" stroke-width="0.8" />
<line x1="470.25" y1="539.10" x2="473.45" y2="539.10" stroke="#2b4a8c" stroke-width="0.8" />
<line x1="470.25" y1="545.10" x2="473.45" y2="545.10" stroke="#2b4a8c" stroke-width="0.8" />
<line x1="481.56" y1="543.90" x2="481.56" y2="547.50" stroke="#2b4a8c" stroke-width="0.8" />
<line x1="479.96" y1="543.90" x2="483.16" y2="543.90" stroke="#2b4a8c" stroke-width="0.8" />
<line x1="479.96" y1="547.50" x2="483.16" y2="547.50" stroke="#2b4a8c" stroke-width="0.8" />
<rect x="421.23" y="542.43" width="4.14" height="4.14" fill="#2b4a8c" stroke="none" stroke-width="1" />
<rect x="430.94" y="541.83" width="4.14" height="4.14" fill="#2b4a8c" stroke="none" stroke-width="1" />
<rect x="440.65" y="540.63" width="4.14" height="4.14" fill="#2b4a8c" stroke="none" stroke-width="1" />
<rect x="450.36" y="544.23" width="4.14" height="4.14" fill="#2b4a8c" stroke="none" stroke-width="1" />
<rect x="460.07" y="542.43" width="4.14" height="4.14" fill="#2b4a8c" stroke="none" stroke-width="1" />
<rect x="469.78" y="540.03" width="4.14" height="4.14" fill="#2b4a8c" stroke="none" stroke-width="1" />
<rect x="479.49" y="543.63" width="4.14" height="4.14" fill="#2b4a8c" stroke="none" stroke-width="1" />
<rect x="489.20" y="543.03" width="4.14" height="4.14" fill="#2b4a8c" stroke="none" stroke-width="1" />
<rect x="498.91" y="546.63" width="4.14" height="4.14" fill="#2b4a8c" stroke="none" stroke-width="1" />
<path d="M505.10,548.00 L506.90,548.00 L506.90,589.70 L505.10,589.70" stroke="#2b4a8c" stroke-width="1.1" fill="none" />
<circle cx="509.80" cy="567.65" r="1.00" fill="#2b4a8c"/>
<circle cx="509.80" cy="570.35" r="1.00" fill="#2b4a8c"/>
<rect x="0.00" y="0.00" width="520.00" height="1.00" fill="#000" stroke="none" stroke-width="1" />
<rect x="0.00" y="0.00" width="1.20" height="652.00" fill="#000" stroke="none" stroke-width="1" />
<rect x="518.60" y="0.00" width="1.40" height="652.00" fill="#000" stroke="none" stroke-width="1" />
<rect x="0.00" y="650.40" width="520.00" height="1.60" fill="#000" stroke="none" stroke-width="1" />
</svg></body></html>
